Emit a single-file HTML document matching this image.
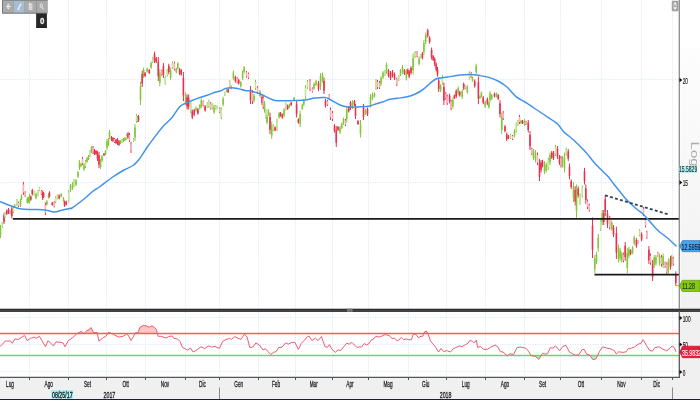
<!DOCTYPE html>
<html><head><meta charset="utf-8"><title>Chart</title>
<style>html,body{margin:0;padding:0;background:#fff;overflow:hidden;} svg{display:block;}</style>
</head><body>
<svg width="700" height="400" viewBox="0 0 700 400">
<rect x="0" y="0" width="700" height="400" fill="#ffffff"/>
<defs><linearGradient id="rp" x1="0" y1="0" x2="0" y2="1"><stop offset="0" stop-color="#fdfdfd"/><stop offset="1" stop-color="#f1f1f1"/></linearGradient></defs>
<rect x="680.5" y="47.4" width="19.5" height="262" fill="url(#rp)"/>
<rect x="679" y="311" width="21" height="89" fill="#f0f0f0"/>
<rect x="0" y="377" width="700" height="23" fill="#f0f0f0"/>
<line x1="29.5" y1="0" x2="29.5" y2="309" stroke="#dbe8fa" stroke-width="1" stroke-dasharray="1.2,1.3" fill="none"/>
<line x1="29.5" y1="312" x2="29.5" y2="377" stroke="#dbe8fa" stroke-width="1" stroke-dasharray="1.2,1.3" fill="none"/>
<line x1="68.5" y1="0" x2="68.5" y2="309" stroke="#dbe8fa" stroke-width="1" stroke-dasharray="1.2,1.3" fill="none"/>
<line x1="68.5" y1="312" x2="68.5" y2="377" stroke="#dbe8fa" stroke-width="1" stroke-dasharray="1.2,1.3" fill="none"/>
<line x1="106.5" y1="0" x2="106.5" y2="309" stroke="#dbe8fa" stroke-width="1" stroke-dasharray="1.2,1.3" fill="none"/>
<line x1="106.5" y1="312" x2="106.5" y2="377" stroke="#dbe8fa" stroke-width="1" stroke-dasharray="1.2,1.3" fill="none"/>
<line x1="145.5" y1="0" x2="145.5" y2="309" stroke="#dbe8fa" stroke-width="1" stroke-dasharray="1.2,1.3" fill="none"/>
<line x1="145.5" y1="312" x2="145.5" y2="377" stroke="#dbe8fa" stroke-width="1" stroke-dasharray="1.2,1.3" fill="none"/>
<line x1="185.5" y1="0" x2="185.5" y2="309" stroke="#dbe8fa" stroke-width="1" stroke-dasharray="1.2,1.3" fill="none"/>
<line x1="185.5" y1="312" x2="185.5" y2="377" stroke="#dbe8fa" stroke-width="1" stroke-dasharray="1.2,1.3" fill="none"/>
<line x1="219.5" y1="0" x2="219.5" y2="309" stroke="#dbe8fa" stroke-width="1" stroke-dasharray="1.2,1.3" fill="none"/>
<line x1="219.5" y1="312" x2="219.5" y2="377" stroke="#dbe8fa" stroke-width="1" stroke-dasharray="1.2,1.3" fill="none"/>
<line x1="258.5" y1="0" x2="258.5" y2="309" stroke="#dbe8fa" stroke-width="1" stroke-dasharray="1.2,1.3" fill="none"/>
<line x1="258.5" y1="312" x2="258.5" y2="377" stroke="#dbe8fa" stroke-width="1" stroke-dasharray="1.2,1.3" fill="none"/>
<line x1="295.5" y1="0" x2="295.5" y2="309" stroke="#dbe8fa" stroke-width="1" stroke-dasharray="1.2,1.3" fill="none"/>
<line x1="295.5" y1="312" x2="295.5" y2="377" stroke="#dbe8fa" stroke-width="1" stroke-dasharray="1.2,1.3" fill="none"/>
<line x1="332.5" y1="0" x2="332.5" y2="309" stroke="#dbe8fa" stroke-width="1" stroke-dasharray="1.2,1.3" fill="none"/>
<line x1="332.5" y1="312" x2="332.5" y2="377" stroke="#dbe8fa" stroke-width="1" stroke-dasharray="1.2,1.3" fill="none"/>
<line x1="368.5" y1="0" x2="368.5" y2="309" stroke="#dbe8fa" stroke-width="1" stroke-dasharray="1.2,1.3" fill="none"/>
<line x1="368.5" y1="312" x2="368.5" y2="377" stroke="#dbe8fa" stroke-width="1" stroke-dasharray="1.2,1.3" fill="none"/>
<line x1="408.5" y1="0" x2="408.5" y2="309" stroke="#dbe8fa" stroke-width="1" stroke-dasharray="1.2,1.3" fill="none"/>
<line x1="408.5" y1="312" x2="408.5" y2="377" stroke="#dbe8fa" stroke-width="1" stroke-dasharray="1.2,1.3" fill="none"/>
<line x1="446.5" y1="0" x2="446.5" y2="309" stroke="#dbe8fa" stroke-width="1" stroke-dasharray="1.2,1.3" fill="none"/>
<line x1="446.5" y1="312" x2="446.5" y2="377" stroke="#dbe8fa" stroke-width="1" stroke-dasharray="1.2,1.3" fill="none"/>
<line x1="485.5" y1="0" x2="485.5" y2="309" stroke="#dbe8fa" stroke-width="1" stroke-dasharray="1.2,1.3" fill="none"/>
<line x1="485.5" y1="312" x2="485.5" y2="377" stroke="#dbe8fa" stroke-width="1" stroke-dasharray="1.2,1.3" fill="none"/>
<line x1="524.5" y1="0" x2="524.5" y2="309" stroke="#dbe8fa" stroke-width="1" stroke-dasharray="1.2,1.3" fill="none"/>
<line x1="524.5" y1="312" x2="524.5" y2="377" stroke="#dbe8fa" stroke-width="1" stroke-dasharray="1.2,1.3" fill="none"/>
<line x1="560.5" y1="0" x2="560.5" y2="309" stroke="#dbe8fa" stroke-width="1" stroke-dasharray="1.2,1.3" fill="none"/>
<line x1="560.5" y1="312" x2="560.5" y2="377" stroke="#dbe8fa" stroke-width="1" stroke-dasharray="1.2,1.3" fill="none"/>
<line x1="601.5" y1="0" x2="601.5" y2="309" stroke="#dbe8fa" stroke-width="1" stroke-dasharray="1.2,1.3" fill="none"/>
<line x1="601.5" y1="312" x2="601.5" y2="377" stroke="#dbe8fa" stroke-width="1" stroke-dasharray="1.2,1.3" fill="none"/>
<line x1="641.5" y1="0" x2="641.5" y2="309" stroke="#dbe8fa" stroke-width="1" stroke-dasharray="1.2,1.3" fill="none"/>
<line x1="641.5" y1="312" x2="641.5" y2="377" stroke="#dbe8fa" stroke-width="1" stroke-dasharray="1.2,1.3" fill="none"/>
<line x1="672.5" y1="0" x2="672.5" y2="309" stroke="#dbe8fa" stroke-width="1" stroke-dasharray="1.2,1.3" fill="none"/>
<line x1="672.5" y1="312" x2="672.5" y2="377" stroke="#dbe8fa" stroke-width="1" stroke-dasharray="1.2,1.3" fill="none"/>
<line x1="0" y1="79.5" x2="679" y2="79.5" stroke="#dbe8fa" stroke-width="1" stroke-dasharray="1.2,1.3" fill="none"/>
<line x1="0" y1="182.5" x2="679" y2="182.5" stroke="#dbe8fa" stroke-width="1" stroke-dasharray="1.2,1.3" fill="none"/>
<line x1="0" y1="317.5" x2="679" y2="317.5" stroke="#dbe8fa" stroke-width="1" stroke-dasharray="1.2,1.3" fill="none"/>
<line x1="0" y1="344.5" x2="679" y2="344.5" stroke="#dbe8fa" stroke-width="1" stroke-dasharray="1.2,1.3" fill="none"/>
<line x1="0" y1="371.5" x2="679" y2="371.5" stroke="#dbe8fa" stroke-width="1" stroke-dasharray="1.2,1.3" fill="none"/>
<polygon points="77.20,333.50 81.40,331.35 83.88,333.50" fill="#ffc4c8"/>
<polygon points="84.09,333.50 86.60,330.65 89.25,329.60 91.00,327.50 93.60,332.75 97.10,332.40 97.33,333.50" fill="#ffc4c8"/>
<polygon points="107.76,333.50 108.50,332.40 110.00,332.75 111.50,333.50" fill="#ffc4c8"/>
<polygon points="135.01,333.50 135.40,332.75 138.00,332.75 139.75,327.50 143.25,325.40 146.75,326.10 149.40,327.15 152.00,325.75 154.60,327.50 156.40,329.25 157.43,333.50" fill="#ffc4c8"/>
<polygon points="423.86,333.50 424.50,331.90 426.25,331.00 427.93,333.50" fill="#ffc4c8"/>
<polygon points="507.00,355.50 507.40,355.85 507.83,355.50" fill="#b8f0b0"/>
<polygon points="531.00,355.50 535.40,356.40 538.90,359.35 541.16,355.50" fill="#b8f0b0"/>
<polygon points="589.95,355.50 592.90,359.70 596.00,358.85 597.57,355.50" fill="#b8f0b0"/>
<line x1="0" y1="333.5" x2="679" y2="333.5" stroke="#ff5a5a" stroke-width="1.3"/>
<line x1="0" y1="355.5" x2="679" y2="355.5" stroke="#5ee05e" stroke-width="1.3"/>
<polyline points="0.00,346.75 2.60,344.00 5.25,341.00 10.50,341.00 12.25,343.25 14.90,338.90 18.40,339.40 24.50,335.40 27.10,340.60 30.60,338.40 34.10,337.10 35.90,338.35 39.40,336.25 45.50,346.75 48.10,340.60 53.40,345.90 56.00,341.85 60.40,342.40 63.00,342.90 65.10,346.75 68.25,340.60 72.60,337.65 77.00,333.60 81.40,331.35 84.00,333.60 86.60,330.65 89.25,329.60 91.00,327.50 93.60,332.75 97.10,332.40 98.90,341.15 103.25,337.65 105.90,336.25 108.50,332.40 110.00,332.75 113.50,334.50 118.75,337.10 123.10,336.25 126.60,334.15 128.40,335.40 131.00,340.60 133.60,336.25 135.40,332.75 138.00,332.75 139.75,327.50 143.25,325.40 146.75,326.10 149.40,327.15 152.00,325.75 154.60,327.50 156.40,329.25 158.10,336.25 160.75,336.25 166.00,338.00 168.60,336.60 172.10,335.90 173.90,338.35 177.40,338.90 180.00,341.50 182.60,347.60 185.25,348.50 187.00,350.25 190.50,348.15 193.10,352.00 195.75,350.60 201.00,346.75 204.50,348.50 208.90,345.90 211.50,347.10 215.00,346.40 219.40,348.50 222.60,341.50 226.10,339.40 229.60,338.35 231.40,339.40 234.90,336.60 237.50,338.00 241.00,339.40 244.50,334.15 247.10,337.10 249.75,347.60 253.25,346.75 255.90,342.90 259.40,345.00 262.90,349.90 265.50,348.85 268.10,351.65 270.75,354.60 273.40,352.35 276.00,351.65 278.60,347.60 282.10,347.10 285.60,342.90 288.25,344.10 291.75,342.40 294.90,342.40 298.40,349.40 301.40,343.25 304.00,340.60 307.50,336.60 309.25,336.25 311.90,340.60 315.40,338.00 318.00,340.60 321.50,336.60 325.00,346.75 327.60,347.10 329.40,344.65 332.00,349.40 335.25,352.35 337.90,349.90 340.50,350.60 343.10,347.60 346.60,343.25 349.25,344.10 351.90,342.40 354.50,345.00 357.10,347.60 359.75,346.75 361.50,347.10 364.10,343.60 366.75,345.00 368.50,344.10 371.10,340.10 373.75,338.90 375.85,336.25 379.00,337.10 381.60,336.25 384.25,334.85 386.90,334.85 389.50,335.90 392.10,338.35 394.75,338.35 397.40,341.15 399.10,339.40 401.40,337.65 403.50,339.75 406.10,338.90 408.75,339.75 411.40,339.75 413.10,334.50 415.75,334.15 418.40,337.65 421.00,336.25 422.75,336.25 424.50,331.90 426.25,331.00 428.00,333.60 430.60,341.50 433.25,344.10 435.90,347.60 438.50,352.00 441.10,348.50 443.75,351.65 446.40,350.60 447.90,351.10 450.50,352.00 453.10,348.85 455.75,347.60 459.25,345.90 461.90,346.75 465.40,344.65 468.00,343.25 469.75,340.60 472.40,341.15 474.10,342.90 476.40,340.10 477.60,347.60 480.25,346.40 483.75,349.40 487.25,349.40 490.75,347.10 495.10,345.00 497.75,346.75 500.40,351.65 503.00,352.00 507.40,355.85 510.00,353.75 513.50,354.60 517.00,347.60 520.50,347.10 525.75,348.15 528.40,351.10 531.00,355.50 535.40,356.40 538.90,359.35 542.40,353.40 545.00,354.10 547.60,353.75 550.25,347.60 552.90,348.15 555.50,345.90 559.60,350.70 562.90,346.40 566.00,345.35 569.30,351.80 572.50,353.90 575.70,355.40 578.90,354.60 582.10,349.60 584.30,349.60 586.40,353.90 589.60,355.00 592.90,359.70 596.00,358.85 599.30,351.80 602.50,346.85 606.80,348.15 611.10,349.00 614.30,350.70 616.40,353.90 618.60,351.80 622.90,352.40 626.10,351.80 628.20,348.60 631.40,348.15 634.60,346.85 637.90,344.30 641.10,343.20 643.20,339.60 646.40,345.35 649.60,350.30 652.40,351.10 655.00,347.50 659.30,346.85 662.50,349.00 666.80,350.70 670.00,348.15 672.10,346.00 674.30,347.50 676.00,351.80" fill="none" stroke="#f05a72" stroke-width="1" stroke-linejoin="round"/>
<rect x="0.00" y="225.00" width="1" height="13.00" fill="#84c83a"/>
<rect x="-0.30" y="227.60" width="1.6" height="7.80" fill="#84c83a"/>
<rect x="1.75" y="222.00" width="1" height="6.00" fill="#84c83a"/>
<rect x="1.45" y="223.20" width="1.6" height="3.60" fill="#c4e6a0"/>
<rect x="3.50" y="213.00" width="1" height="11.00" fill="#e9304c"/>
<rect x="3.20" y="215.20" width="1.6" height="6.60" fill="#e9304c"/>
<rect x="4.50" y="212.00" width="1" height="6.00" fill="#84c83a"/>
<rect x="4.20" y="213.20" width="1.6" height="3.60" fill="#c4e6a0"/>
<rect x="6.25" y="209.50" width="1" height="5.50" fill="#e9304c"/>
<rect x="5.95" y="210.60" width="1.6" height="3.30" fill="#e9304c"/>
<rect x="8.00" y="208.00" width="1" height="6.00" fill="#e9304c"/>
<rect x="7.70" y="209.20" width="1.6" height="3.60" fill="#e9304c"/>
<rect x="9.60" y="210.60" width="1" height="3.40" fill="#e9304c"/>
<rect x="9.30" y="211.28" width="1.6" height="2.04" fill="#f7b4c0"/>
<rect x="11.30" y="206.00" width="1" height="12.50" fill="#e9304c"/>
<rect x="11.00" y="208.50" width="1.6" height="7.50" fill="#e9304c"/>
<rect x="13.00" y="207.00" width="1" height="6.00" fill="#84c83a"/>
<rect x="12.70" y="208.20" width="1.6" height="3.60" fill="#c4e6a0"/>
<rect x="14.10" y="204.00" width="1" height="4.00" fill="#84c83a"/>
<rect x="13.80" y="204.80" width="1.6" height="2.40" fill="#84c83a"/>
<rect x="16.40" y="199.00" width="1" height="7.00" fill="#84c83a"/>
<rect x="16.10" y="200.40" width="1.6" height="4.20" fill="#c4e6a0"/>
<rect x="18.00" y="201.60" width="1" height="5.40" fill="#e9304c"/>
<rect x="17.70" y="202.68" width="1.6" height="3.24" fill="#f7b4c0"/>
<rect x="20.00" y="198.75" width="1" height="8.25" fill="#84c83a"/>
<rect x="19.70" y="200.40" width="1.6" height="4.95" fill="#84c83a"/>
<rect x="21.00" y="194.40" width="1" height="5.60" fill="#84c83a"/>
<rect x="20.70" y="195.52" width="1.6" height="3.36" fill="#84c83a"/>
<rect x="22.90" y="181.90" width="1" height="13.10" fill="#e9304c"/>
<rect x="22.60" y="184.52" width="1.6" height="7.86" fill="#f7b4c0"/>
<rect x="24.70" y="191.25" width="1" height="5.75" fill="#e9304c"/>
<rect x="24.40" y="192.40" width="1.6" height="3.45" fill="#f7b4c0"/>
<rect x="26.80" y="196.90" width="1" height="6.85" fill="#84c83a"/>
<rect x="26.50" y="198.27" width="1.6" height="4.11" fill="#84c83a"/>
<rect x="27.80" y="197.00" width="1" height="6.00" fill="#84c83a"/>
<rect x="27.50" y="198.20" width="1.6" height="3.60" fill="#84c83a"/>
<rect x="29.00" y="193.75" width="1" height="10.00" fill="#84c83a"/>
<rect x="28.70" y="195.75" width="1.6" height="6.00" fill="#84c83a"/>
<rect x="30.30" y="195.60" width="1" height="5.00" fill="#e9304c"/>
<rect x="30.00" y="196.60" width="1.6" height="3.00" fill="#e9304c"/>
<rect x="31.80" y="188.75" width="1" height="6.85" fill="#e9304c"/>
<rect x="31.50" y="190.12" width="1.6" height="4.11" fill="#e9304c"/>
<rect x="33.70" y="190.60" width="1" height="5.00" fill="#84c83a"/>
<rect x="33.40" y="191.60" width="1.6" height="3.00" fill="#c4e6a0"/>
<rect x="35.50" y="192.50" width="1" height="6.90" fill="#84c83a"/>
<rect x="35.20" y="193.88" width="1.6" height="4.14" fill="#84c83a"/>
<rect x="37.50" y="190.00" width="1" height="6.25" fill="#84c83a"/>
<rect x="37.20" y="191.25" width="1.6" height="3.75" fill="#c4e6a0"/>
<rect x="38.90" y="186.90" width="1" height="4.35" fill="#84c83a"/>
<rect x="38.60" y="187.77" width="1.6" height="2.61" fill="#c4e6a0"/>
<rect x="40.90" y="190.00" width="1" height="5.00" fill="#e9304c"/>
<rect x="40.60" y="191.00" width="1.6" height="3.00" fill="#f7b4c0"/>
<rect x="42.20" y="190.60" width="1" height="9.40" fill="#e9304c"/>
<rect x="41.90" y="192.48" width="1.6" height="5.64" fill="#e9304c"/>
<rect x="43.10" y="192.00" width="1" height="6.00" fill="#e9304c"/>
<rect x="42.80" y="193.20" width="1.6" height="3.60" fill="#e9304c"/>
<rect x="44.90" y="202.50" width="1" height="12.50" fill="#e9304c"/>
<rect x="44.60" y="205.00" width="1.6" height="7.50" fill="#f7b4c0"/>
<rect x="46.30" y="200.00" width="1" height="5.60" fill="#84c83a"/>
<rect x="46.00" y="201.12" width="1.6" height="3.36" fill="#84c83a"/>
<rect x="48.10" y="193.10" width="1" height="5.65" fill="#84c83a"/>
<rect x="47.80" y="194.23" width="1.6" height="3.39" fill="#84c83a"/>
<rect x="49.00" y="191.25" width="1" height="6.25" fill="#e9304c"/>
<rect x="48.70" y="192.50" width="1.6" height="3.75" fill="#e9304c"/>
<rect x="51.80" y="201.90" width="1" height="3.70" fill="#e9304c"/>
<rect x="51.50" y="202.64" width="1.6" height="2.22" fill="#e9304c"/>
<rect x="53.70" y="201.25" width="1" height="6.25" fill="#e9304c"/>
<rect x="53.40" y="202.50" width="1.6" height="3.75" fill="#f7b4c0"/>
<rect x="55.10" y="196.25" width="1" height="6.85" fill="#84c83a"/>
<rect x="54.80" y="197.62" width="1.6" height="4.11" fill="#c4e6a0"/>
<rect x="56.80" y="194.40" width="1" height="5.00" fill="#84c83a"/>
<rect x="56.50" y="195.40" width="1.6" height="3.00" fill="#c4e6a0"/>
<rect x="58.70" y="194.40" width="1" height="5.00" fill="#e9304c"/>
<rect x="58.40" y="195.40" width="1.6" height="3.00" fill="#e9304c"/>
<rect x="60.70" y="193.10" width="1" height="4.40" fill="#84c83a"/>
<rect x="60.40" y="193.98" width="1.6" height="2.64" fill="#84c83a"/>
<rect x="63.00" y="196.90" width="1" height="5.00" fill="#84c83a"/>
<rect x="62.70" y="197.90" width="1.6" height="3.00" fill="#84c83a"/>
<rect x="64.00" y="200.60" width="1" height="6.30" fill="#e9304c"/>
<rect x="63.70" y="201.86" width="1.6" height="3.78" fill="#e9304c"/>
<rect x="65.70" y="200.60" width="1" height="5.00" fill="#e9304c"/>
<rect x="65.40" y="201.60" width="1.6" height="3.00" fill="#e9304c"/>
<rect x="68.20" y="190.00" width="1" height="12.50" fill="#84c83a"/>
<rect x="67.90" y="192.50" width="1.6" height="7.50" fill="#c4e6a0"/>
<rect x="70.00" y="184.00" width="1" height="8.00" fill="#84c83a"/>
<rect x="69.70" y="185.60" width="1.6" height="4.80" fill="#84c83a"/>
<rect x="72.00" y="182.00" width="1" height="8.00" fill="#84c83a"/>
<rect x="71.70" y="183.60" width="1.6" height="4.80" fill="#84c83a"/>
<rect x="73.50" y="179.00" width="1" height="8.00" fill="#84c83a"/>
<rect x="73.20" y="180.60" width="1.6" height="4.80" fill="#c4e6a0"/>
<rect x="75.50" y="179.00" width="1" height="7.00" fill="#84c83a"/>
<rect x="75.20" y="180.40" width="1.6" height="4.20" fill="#84c83a"/>
<rect x="77.50" y="171.00" width="1" height="7.00" fill="#84c83a"/>
<rect x="77.20" y="172.40" width="1.6" height="4.20" fill="#84c83a"/>
<rect x="79.00" y="160.00" width="1" height="10.00" fill="#84c83a"/>
<rect x="78.70" y="162.00" width="1.6" height="6.00" fill="#84c83a"/>
<rect x="80.50" y="163.00" width="1" height="4.00" fill="#84c83a"/>
<rect x="80.20" y="163.80" width="1.6" height="2.40" fill="#84c83a"/>
<rect x="82.00" y="157.00" width="1" height="8.00" fill="#e9304c"/>
<rect x="81.70" y="158.60" width="1.6" height="4.80" fill="#f7b4c0"/>
<rect x="83.50" y="163.00" width="1" height="8.00" fill="#84c83a"/>
<rect x="83.20" y="164.60" width="1.6" height="4.80" fill="#84c83a"/>
<rect x="85.00" y="160.00" width="1" height="8.00" fill="#84c83a"/>
<rect x="84.70" y="161.60" width="1.6" height="4.80" fill="#c4e6a0"/>
<rect x="86.50" y="157.00" width="1" height="6.00" fill="#84c83a"/>
<rect x="86.20" y="158.20" width="1.6" height="3.60" fill="#84c83a"/>
<rect x="88.00" y="155.00" width="1" height="5.00" fill="#84c83a"/>
<rect x="87.70" y="156.00" width="1.6" height="3.00" fill="#84c83a"/>
<rect x="89.50" y="150.00" width="1" height="7.00" fill="#84c83a"/>
<rect x="89.20" y="151.40" width="1.6" height="4.20" fill="#c4e6a0"/>
<rect x="91.00" y="146.00" width="1" height="7.00" fill="#84c83a"/>
<rect x="90.70" y="147.40" width="1.6" height="4.20" fill="#84c83a"/>
<rect x="92.50" y="146.00" width="1" height="8.00" fill="#e9304c"/>
<rect x="92.20" y="147.60" width="1.6" height="4.80" fill="#f7b4c0"/>
<rect x="94.00" y="149.00" width="1" height="6.00" fill="#e9304c"/>
<rect x="93.70" y="150.20" width="1.6" height="3.60" fill="#e9304c"/>
<rect x="95.50" y="150.00" width="1" height="5.00" fill="#e9304c"/>
<rect x="95.20" y="151.00" width="1.6" height="3.00" fill="#e9304c"/>
<rect x="97.00" y="151.00" width="1" height="10.00" fill="#e9304c"/>
<rect x="96.70" y="153.00" width="1.6" height="6.00" fill="#e9304c"/>
<rect x="98.50" y="152.00" width="1" height="16.00" fill="#e9304c"/>
<rect x="98.20" y="155.20" width="1.6" height="9.60" fill="#e9304c"/>
<rect x="100.00" y="159.00" width="1" height="10.00" fill="#84c83a"/>
<rect x="99.70" y="161.00" width="1.6" height="6.00" fill="#84c83a"/>
<rect x="101.50" y="155.00" width="1" height="7.00" fill="#84c83a"/>
<rect x="101.20" y="156.40" width="1.6" height="4.20" fill="#84c83a"/>
<rect x="103.50" y="153.00" width="1" height="3.00" fill="#e9304c"/>
<rect x="103.20" y="153.60" width="1.6" height="1.80" fill="#e9304c"/>
<rect x="105.00" y="150.00" width="1" height="5.00" fill="#84c83a"/>
<rect x="104.70" y="151.00" width="1.6" height="3.00" fill="#84c83a"/>
<rect x="106.50" y="139.00" width="1" height="11.00" fill="#84c83a"/>
<rect x="106.20" y="141.20" width="1.6" height="6.60" fill="#84c83a"/>
<rect x="108.00" y="138.00" width="1" height="8.00" fill="#84c83a"/>
<rect x="107.70" y="139.60" width="1.6" height="4.80" fill="#84c83a"/>
<rect x="109.00" y="130.00" width="1" height="9.00" fill="#84c83a"/>
<rect x="108.70" y="131.80" width="1.6" height="5.40" fill="#84c83a"/>
<rect x="111.00" y="136.00" width="1" height="5.00" fill="#e9304c"/>
<rect x="110.70" y="137.00" width="1.6" height="3.00" fill="#e9304c"/>
<rect x="112.50" y="137.00" width="1" height="5.00" fill="#e9304c"/>
<rect x="112.20" y="138.00" width="1.6" height="3.00" fill="#e9304c"/>
<rect x="114.00" y="138.00" width="1" height="5.00" fill="#e9304c"/>
<rect x="113.70" y="139.00" width="1.6" height="3.00" fill="#f7b4c0"/>
<rect x="115.50" y="139.00" width="1" height="5.00" fill="#e9304c"/>
<rect x="115.20" y="140.00" width="1.6" height="3.00" fill="#e9304c"/>
<rect x="117.00" y="138.00" width="1" height="7.00" fill="#e9304c"/>
<rect x="116.70" y="139.40" width="1.6" height="4.20" fill="#e9304c"/>
<rect x="118.50" y="140.00" width="1" height="6.00" fill="#e9304c"/>
<rect x="118.20" y="141.20" width="1.6" height="3.60" fill="#e9304c"/>
<rect x="120.00" y="140.00" width="1" height="4.00" fill="#84c83a"/>
<rect x="119.70" y="140.80" width="1.6" height="2.40" fill="#84c83a"/>
<rect x="121.50" y="139.00" width="1" height="4.00" fill="#84c83a"/>
<rect x="121.20" y="139.80" width="1.6" height="2.40" fill="#c4e6a0"/>
<rect x="123.00" y="138.00" width="1" height="4.00" fill="#84c83a"/>
<rect x="122.70" y="138.80" width="1.6" height="2.40" fill="#84c83a"/>
<rect x="124.50" y="137.00" width="1" height="4.00" fill="#84c83a"/>
<rect x="124.20" y="137.80" width="1.6" height="2.40" fill="#84c83a"/>
<rect x="126.00" y="134.00" width="1" height="6.00" fill="#84c83a"/>
<rect x="125.70" y="135.20" width="1.6" height="3.60" fill="#c4e6a0"/>
<rect x="127.50" y="132.00" width="1" height="7.00" fill="#e9304c"/>
<rect x="127.20" y="133.40" width="1.6" height="4.20" fill="#e9304c"/>
<rect x="129.00" y="133.00" width="1" height="9.00" fill="#e9304c"/>
<rect x="128.70" y="134.80" width="1.6" height="5.40" fill="#f7b4c0"/>
<rect x="130.50" y="142.00" width="1" height="11.00" fill="#e9304c"/>
<rect x="130.20" y="144.20" width="1.6" height="6.60" fill="#f7b4c0"/>
<rect x="133.00" y="138.00" width="1" height="4.00" fill="#84c83a"/>
<rect x="132.70" y="138.80" width="1.6" height="2.40" fill="#c4e6a0"/>
<rect x="134.50" y="124.00" width="1" height="17.00" fill="#84c83a"/>
<rect x="134.20" y="127.40" width="1.6" height="10.20" fill="#84c83a"/>
<rect x="136.00" y="114.00" width="1" height="9.00" fill="#84c83a"/>
<rect x="135.70" y="115.80" width="1.6" height="5.40" fill="#c4e6a0"/>
<rect x="137.00" y="116.00" width="1" height="6.00" fill="#84c83a"/>
<rect x="136.70" y="117.20" width="1.6" height="3.60" fill="#c4e6a0"/>
<rect x="138.00" y="115.00" width="1" height="7.00" fill="#e9304c"/>
<rect x="137.70" y="116.40" width="1.6" height="4.20" fill="#e9304c"/>
<rect x="140.00" y="81.70" width="1" height="23.30" fill="#84c83a"/>
<rect x="139.70" y="86.36" width="1.6" height="13.98" fill="#84c83a"/>
<rect x="141.70" y="70.50" width="1" height="16.50" fill="#e9304c"/>
<rect x="141.40" y="73.80" width="1.6" height="9.90" fill="#e9304c"/>
<rect x="143.10" y="67.50" width="1" height="10.50" fill="#84c83a"/>
<rect x="142.80" y="69.60" width="1.6" height="6.30" fill="#84c83a"/>
<rect x="144.60" y="72.00" width="1" height="5.00" fill="#e9304c"/>
<rect x="144.30" y="73.00" width="1.6" height="3.00" fill="#e9304c"/>
<rect x="146.70" y="67.50" width="1" height="5.20" fill="#84c83a"/>
<rect x="146.40" y="68.54" width="1.6" height="3.12" fill="#84c83a"/>
<rect x="148.80" y="69.00" width="1" height="5.00" fill="#e9304c"/>
<rect x="148.50" y="70.00" width="1.6" height="3.00" fill="#e9304c"/>
<rect x="150.60" y="61.50" width="1" height="7.50" fill="#84c83a"/>
<rect x="150.30" y="63.00" width="1.6" height="4.50" fill="#84c83a"/>
<rect x="152.10" y="57.00" width="1" height="6.00" fill="#84c83a"/>
<rect x="151.80" y="58.20" width="1.6" height="3.60" fill="#c4e6a0"/>
<rect x="154.00" y="51.70" width="1" height="11.30" fill="#e9304c"/>
<rect x="153.70" y="53.96" width="1.6" height="6.78" fill="#e9304c"/>
<rect x="155.70" y="57.00" width="1" height="6.00" fill="#e9304c"/>
<rect x="155.40" y="58.20" width="1.6" height="3.60" fill="#e9304c"/>
<rect x="157.80" y="57.00" width="1" height="24.00" fill="#e9304c"/>
<rect x="157.50" y="61.80" width="1.6" height="14.40" fill="#e9304c"/>
<rect x="159.30" y="69.00" width="1" height="17.20" fill="#84c83a"/>
<rect x="159.00" y="72.44" width="1.6" height="10.32" fill="#84c83a"/>
<rect x="161.20" y="69.70" width="1" height="6.00" fill="#e9304c"/>
<rect x="160.90" y="70.90" width="1.6" height="3.60" fill="#f7b4c0"/>
<rect x="162.90" y="63.00" width="1" height="15.00" fill="#e9304c"/>
<rect x="162.60" y="66.00" width="1.6" height="9.00" fill="#e9304c"/>
<rect x="164.70" y="75.70" width="1" height="9.00" fill="#84c83a"/>
<rect x="164.40" y="77.50" width="1.6" height="5.40" fill="#c4e6a0"/>
<rect x="166.80" y="69.00" width="1" height="7.50" fill="#84c83a"/>
<rect x="166.50" y="70.50" width="1.6" height="4.50" fill="#c4e6a0"/>
<rect x="168.30" y="63.70" width="1" height="10.50" fill="#e9304c"/>
<rect x="168.00" y="65.80" width="1.6" height="6.30" fill="#e9304c"/>
<rect x="170.10" y="67.50" width="1" height="12.70" fill="#84c83a"/>
<rect x="169.80" y="70.04" width="1.6" height="7.62" fill="#84c83a"/>
<rect x="171.90" y="61.50" width="1" height="7.50" fill="#84c83a"/>
<rect x="171.60" y="63.00" width="1.6" height="4.50" fill="#c4e6a0"/>
<rect x="173.90" y="61.50" width="1" height="9.00" fill="#e9304c"/>
<rect x="173.60" y="63.30" width="1.6" height="5.40" fill="#f7b4c0"/>
<rect x="175.80" y="67.50" width="1" height="6.00" fill="#84c83a"/>
<rect x="175.50" y="68.70" width="1.6" height="3.60" fill="#84c83a"/>
<rect x="177.30" y="62.00" width="1" height="7.70" fill="#84c83a"/>
<rect x="177.00" y="63.54" width="1.6" height="4.62" fill="#84c83a"/>
<rect x="179.10" y="68.00" width="1" height="7.00" fill="#e9304c"/>
<rect x="178.80" y="69.40" width="1.6" height="4.20" fill="#e9304c"/>
<rect x="180.70" y="69.00" width="1" height="6.70" fill="#e9304c"/>
<rect x="180.40" y="70.34" width="1.6" height="4.02" fill="#e9304c"/>
<rect x="182.90" y="72.00" width="1" height="29.20" fill="#e9304c"/>
<rect x="182.60" y="77.84" width="1.6" height="17.52" fill="#e9304c"/>
<rect x="185.10" y="92.20" width="1" height="12.80" fill="#84c83a"/>
<rect x="184.80" y="94.76" width="1.6" height="7.68" fill="#84c83a"/>
<rect x="186.60" y="94.50" width="1" height="15.00" fill="#e9304c"/>
<rect x="186.30" y="97.50" width="1.6" height="9.00" fill="#e9304c"/>
<rect x="188.10" y="94.50" width="1" height="15.00" fill="#e9304c"/>
<rect x="187.80" y="97.50" width="1.6" height="9.00" fill="#e9304c"/>
<rect x="190.30" y="100.50" width="1" height="12.70" fill="#84c83a"/>
<rect x="190.00" y="103.04" width="1.6" height="7.62" fill="#c4e6a0"/>
<rect x="191.80" y="109.50" width="1" height="9.70" fill="#e9304c"/>
<rect x="191.50" y="111.44" width="1.6" height="5.82" fill="#e9304c"/>
<rect x="193.70" y="108.70" width="1" height="7.50" fill="#e9304c"/>
<rect x="193.40" y="110.20" width="1.6" height="4.50" fill="#e9304c"/>
<rect x="195.60" y="106.50" width="1" height="5.20" fill="#84c83a"/>
<rect x="195.30" y="107.54" width="1.6" height="3.12" fill="#84c83a"/>
<rect x="197.40" y="108.00" width="1" height="6.70" fill="#e9304c"/>
<rect x="197.10" y="109.34" width="1.6" height="4.02" fill="#e9304c"/>
<rect x="199.30" y="104.20" width="1" height="5.30" fill="#84c83a"/>
<rect x="199.00" y="105.26" width="1.6" height="3.18" fill="#84c83a"/>
<rect x="200.80" y="98.20" width="1" height="9.80" fill="#84c83a"/>
<rect x="200.50" y="100.16" width="1.6" height="5.88" fill="#84c83a"/>
<rect x="202.70" y="100.50" width="1" height="6.00" fill="#e9304c"/>
<rect x="202.40" y="101.70" width="1.6" height="3.60" fill="#f7b4c0"/>
<rect x="204.60" y="105.00" width="1" height="6.70" fill="#e9304c"/>
<rect x="204.30" y="106.34" width="1.6" height="4.02" fill="#e9304c"/>
<rect x="206.80" y="102.00" width="1" height="6.00" fill="#84c83a"/>
<rect x="206.50" y="103.20" width="1.6" height="3.60" fill="#c4e6a0"/>
<rect x="208.30" y="99.70" width="1" height="8.30" fill="#84c83a"/>
<rect x="208.00" y="101.36" width="1.6" height="4.98" fill="#c4e6a0"/>
<rect x="210.20" y="102.00" width="1" height="7.50" fill="#e9304c"/>
<rect x="209.90" y="103.50" width="1.6" height="4.50" fill="#f7b4c0"/>
<rect x="212.10" y="103.50" width="1" height="6.00" fill="#84c83a"/>
<rect x="211.80" y="104.70" width="1.6" height="3.60" fill="#c4e6a0"/>
<rect x="213.60" y="105.00" width="1" height="9.00" fill="#84c83a"/>
<rect x="213.30" y="106.80" width="1.6" height="5.40" fill="#84c83a"/>
<rect x="215.10" y="105.00" width="1" height="4.50" fill="#84c83a"/>
<rect x="214.80" y="105.90" width="1.6" height="2.70" fill="#c4e6a0"/>
<rect x="216.60" y="105.50" width="1" height="4.00" fill="#84c83a"/>
<rect x="216.30" y="106.30" width="1.6" height="2.40" fill="#c4e6a0"/>
<rect x="219.30" y="107.20" width="1" height="6.00" fill="#e9304c"/>
<rect x="219.00" y="108.40" width="1.6" height="3.60" fill="#f7b4c0"/>
<rect x="220.80" y="107.20" width="1" height="12.00" fill="#84c83a"/>
<rect x="220.50" y="109.60" width="1.6" height="7.20" fill="#c4e6a0"/>
<rect x="222.60" y="96.70" width="1" height="9.80" fill="#84c83a"/>
<rect x="222.30" y="98.66" width="1.6" height="5.88" fill="#84c83a"/>
<rect x="224.40" y="91.50" width="1" height="4.50" fill="#84c83a"/>
<rect x="224.10" y="92.40" width="1.6" height="2.70" fill="#c4e6a0"/>
<rect x="226.20" y="88.50" width="1" height="3.70" fill="#84c83a"/>
<rect x="225.90" y="89.24" width="1.6" height="2.22" fill="#84c83a"/>
<rect x="227.70" y="88.50" width="1" height="4.50" fill="#e9304c"/>
<rect x="227.40" y="89.40" width="1.6" height="2.70" fill="#e9304c"/>
<rect x="229.30" y="80.20" width="1" height="8.30" fill="#84c83a"/>
<rect x="229.00" y="81.86" width="1.6" height="4.98" fill="#c4e6a0"/>
<rect x="230.70" y="85.50" width="1" height="3.70" fill="#e9304c"/>
<rect x="230.40" y="86.24" width="1.6" height="2.22" fill="#f7b4c0"/>
<rect x="232.90" y="70.50" width="1" height="9.70" fill="#84c83a"/>
<rect x="232.60" y="72.44" width="1.6" height="5.82" fill="#84c83a"/>
<rect x="234.90" y="75.70" width="1" height="6.80" fill="#e9304c"/>
<rect x="234.60" y="77.06" width="1.6" height="4.08" fill="#e9304c"/>
<rect x="236.70" y="77.20" width="1" height="6.00" fill="#e9304c"/>
<rect x="236.40" y="78.40" width="1.6" height="3.60" fill="#f7b4c0"/>
<rect x="238.20" y="78.70" width="1" height="6.00" fill="#e9304c"/>
<rect x="237.90" y="79.90" width="1.6" height="3.60" fill="#e9304c"/>
<rect x="240.30" y="81.00" width="1" height="6.70" fill="#84c83a"/>
<rect x="240.00" y="82.34" width="1.6" height="4.02" fill="#84c83a"/>
<rect x="242.10" y="70.50" width="1" height="9.70" fill="#84c83a"/>
<rect x="241.80" y="72.44" width="1.6" height="5.82" fill="#84c83a"/>
<rect x="243.60" y="66.00" width="1" height="7.50" fill="#84c83a"/>
<rect x="243.30" y="67.50" width="1.6" height="4.50" fill="#84c83a"/>
<rect x="246.00" y="71.00" width="1" height="6.50" fill="#e9304c"/>
<rect x="245.70" y="72.30" width="1.6" height="3.90" fill="#f7b4c0"/>
<rect x="248.00" y="72.50" width="1" height="6.50" fill="#e9304c"/>
<rect x="247.70" y="73.80" width="1.6" height="3.90" fill="#f7b4c0"/>
<rect x="250.00" y="86.00" width="1" height="18.00" fill="#e9304c"/>
<rect x="249.70" y="89.60" width="1.6" height="10.80" fill="#e9304c"/>
<rect x="252.00" y="90.00" width="1" height="14.00" fill="#e9304c"/>
<rect x="251.70" y="92.80" width="1.6" height="8.40" fill="#f7b4c0"/>
<rect x="253.50" y="94.00" width="1" height="8.50" fill="#84c83a"/>
<rect x="253.20" y="95.70" width="1.6" height="5.10" fill="#84c83a"/>
<rect x="255.00" y="80.00" width="1" height="10.00" fill="#84c83a"/>
<rect x="254.70" y="82.00" width="1.6" height="6.00" fill="#c4e6a0"/>
<rect x="257.00" y="86.00" width="1" height="8.00" fill="#e9304c"/>
<rect x="256.70" y="87.60" width="1.6" height="4.80" fill="#f7b4c0"/>
<rect x="259.50" y="90.00" width="1" height="7.50" fill="#84c83a"/>
<rect x="259.20" y="91.50" width="1.6" height="4.50" fill="#84c83a"/>
<rect x="261.50" y="95.00" width="1" height="10.00" fill="#e9304c"/>
<rect x="261.20" y="97.00" width="1.6" height="6.00" fill="#e9304c"/>
<rect x="262.70" y="95.50" width="1" height="13.50" fill="#e9304c"/>
<rect x="262.40" y="98.20" width="1.6" height="8.10" fill="#f7b4c0"/>
<rect x="264.00" y="101.00" width="1" height="11.70" fill="#84c83a"/>
<rect x="263.70" y="103.34" width="1.6" height="7.02" fill="#84c83a"/>
<rect x="265.40" y="109.00" width="1" height="10.00" fill="#84c83a"/>
<rect x="265.10" y="111.00" width="1.6" height="6.00" fill="#c4e6a0"/>
<rect x="266.50" y="114.70" width="1" height="9.60" fill="#84c83a"/>
<rect x="266.20" y="116.62" width="1.6" height="5.76" fill="#84c83a"/>
<rect x="267.90" y="109.00" width="1" height="7.00" fill="#84c83a"/>
<rect x="267.60" y="110.40" width="1.6" height="4.20" fill="#84c83a"/>
<rect x="269.50" y="112.70" width="1" height="21.30" fill="#e9304c"/>
<rect x="269.20" y="116.96" width="1.6" height="12.78" fill="#e9304c"/>
<rect x="271.20" y="121.60" width="1" height="17.20" fill="#84c83a"/>
<rect x="270.90" y="125.04" width="1.6" height="10.32" fill="#84c83a"/>
<rect x="272.90" y="124.30" width="1" height="6.90" fill="#84c83a"/>
<rect x="272.60" y="125.68" width="1.6" height="4.14" fill="#c4e6a0"/>
<rect x="274.60" y="126.40" width="1" height="4.80" fill="#e9304c"/>
<rect x="274.30" y="127.36" width="1.6" height="2.88" fill="#e9304c"/>
<rect x="276.50" y="118.80" width="1" height="12.40" fill="#84c83a"/>
<rect x="276.20" y="121.28" width="1.6" height="7.44" fill="#c4e6a0"/>
<rect x="278.60" y="112.00" width="1" height="6.80" fill="#84c83a"/>
<rect x="278.30" y="113.36" width="1.6" height="4.08" fill="#84c83a"/>
<rect x="280.00" y="112.00" width="1" height="4.80" fill="#e9304c"/>
<rect x="279.70" y="112.96" width="1.6" height="2.88" fill="#e9304c"/>
<rect x="281.80" y="113.40" width="1" height="5.40" fill="#e9304c"/>
<rect x="281.50" y="114.48" width="1.6" height="3.24" fill="#e9304c"/>
<rect x="283.50" y="107.90" width="1" height="9.60" fill="#84c83a"/>
<rect x="283.20" y="109.82" width="1.6" height="5.76" fill="#84c83a"/>
<rect x="285.40" y="102.40" width="1" height="8.20" fill="#84c83a"/>
<rect x="285.10" y="104.04" width="1.6" height="4.92" fill="#c4e6a0"/>
<rect x="287.20" y="104.40" width="1" height="5.60" fill="#e9304c"/>
<rect x="286.90" y="105.52" width="1.6" height="3.36" fill="#e9304c"/>
<rect x="289.00" y="103.70" width="1" height="4.20" fill="#84c83a"/>
<rect x="288.70" y="104.54" width="1.6" height="2.52" fill="#84c83a"/>
<rect x="290.70" y="101.70" width="1" height="4.10" fill="#e9304c"/>
<rect x="290.40" y="102.52" width="1.6" height="2.46" fill="#e9304c"/>
<rect x="293.50" y="96.90" width="1" height="4.10" fill="#84c83a"/>
<rect x="293.20" y="97.72" width="1.6" height="2.46" fill="#84c83a"/>
<rect x="296.10" y="101.00" width="1" height="16.50" fill="#e9304c"/>
<rect x="295.80" y="104.30" width="1.6" height="9.90" fill="#e9304c"/>
<rect x="297.90" y="118.20" width="1" height="5.50" fill="#e9304c"/>
<rect x="297.60" y="119.30" width="1.6" height="3.30" fill="#e9304c"/>
<rect x="299.60" y="110.60" width="1" height="16.40" fill="#84c83a"/>
<rect x="299.30" y="113.88" width="1.6" height="9.84" fill="#84c83a"/>
<rect x="301.80" y="103.70" width="1" height="6.30" fill="#84c83a"/>
<rect x="301.50" y="104.96" width="1.6" height="3.78" fill="#84c83a"/>
<rect x="303.30" y="99.00" width="1" height="7.00" fill="#84c83a"/>
<rect x="303.00" y="100.40" width="1.6" height="4.20" fill="#84c83a"/>
<rect x="305.00" y="85.00" width="1" height="14.00" fill="#84c83a"/>
<rect x="304.70" y="87.80" width="1.6" height="8.40" fill="#c4e6a0"/>
<rect x="307.00" y="80.00" width="1" height="9.00" fill="#84c83a"/>
<rect x="306.70" y="81.80" width="1.6" height="5.40" fill="#c4e6a0"/>
<rect x="309.50" y="79.00" width="1" height="12.00" fill="#e9304c"/>
<rect x="309.20" y="81.40" width="1.6" height="7.20" fill="#f7b4c0"/>
<rect x="312.00" y="87.50" width="1" height="5.00" fill="#e9304c"/>
<rect x="311.70" y="88.50" width="1.6" height="3.00" fill="#f7b4c0"/>
<rect x="313.50" y="82.50" width="1" height="7.50" fill="#84c83a"/>
<rect x="313.20" y="84.00" width="1.6" height="4.50" fill="#84c83a"/>
<rect x="315.50" y="80.00" width="1" height="6.00" fill="#84c83a"/>
<rect x="315.20" y="81.20" width="1.6" height="3.60" fill="#84c83a"/>
<rect x="318.00" y="81.00" width="1" height="10.00" fill="#e9304c"/>
<rect x="317.70" y="83.00" width="1.6" height="6.00" fill="#e9304c"/>
<rect x="320.00" y="73.00" width="1" height="17.00" fill="#84c83a"/>
<rect x="319.70" y="76.40" width="1.6" height="10.20" fill="#84c83a"/>
<rect x="322.00" y="72.50" width="1" height="10.00" fill="#84c83a"/>
<rect x="321.70" y="74.50" width="1.6" height="6.00" fill="#84c83a"/>
<rect x="323.50" y="77.50" width="1" height="16.50" fill="#e9304c"/>
<rect x="323.20" y="80.80" width="1.6" height="9.90" fill="#e9304c"/>
<rect x="325.00" y="99.00" width="1" height="8.50" fill="#e9304c"/>
<rect x="324.70" y="100.70" width="1.6" height="5.10" fill="#e9304c"/>
<rect x="327.00" y="100.00" width="1" height="6.00" fill="#e9304c"/>
<rect x="326.70" y="101.20" width="1.6" height="3.60" fill="#f7b4c0"/>
<rect x="328.75" y="94.00" width="1" height="5.00" fill="#e9304c"/>
<rect x="328.45" y="95.00" width="1.6" height="3.00" fill="#f7b4c0"/>
<rect x="330.00" y="107.50" width="1" height="12.50" fill="#e9304c"/>
<rect x="329.70" y="110.00" width="1.6" height="7.50" fill="#f7b4c0"/>
<rect x="332.00" y="111.00" width="1" height="10.00" fill="#e9304c"/>
<rect x="331.70" y="113.00" width="1.6" height="6.00" fill="#f7b4c0"/>
<rect x="334.00" y="124.00" width="1" height="8.50" fill="#e9304c"/>
<rect x="333.70" y="125.70" width="1.6" height="5.10" fill="#e9304c"/>
<rect x="335.75" y="126.00" width="1" height="21.00" fill="#e9304c"/>
<rect x="335.45" y="130.20" width="1.6" height="12.60" fill="#e9304c"/>
<rect x="337.50" y="126.00" width="1" height="5.00" fill="#e9304c"/>
<rect x="337.20" y="127.00" width="1.6" height="3.00" fill="#e9304c"/>
<rect x="339.50" y="126.00" width="1" height="8.00" fill="#84c83a"/>
<rect x="339.20" y="127.60" width="1.6" height="4.80" fill="#84c83a"/>
<rect x="341.25" y="122.50" width="1" height="6.50" fill="#84c83a"/>
<rect x="340.95" y="123.80" width="1.6" height="3.90" fill="#84c83a"/>
<rect x="343.00" y="117.50" width="1" height="7.50" fill="#84c83a"/>
<rect x="342.70" y="119.00" width="1.6" height="4.50" fill="#84c83a"/>
<rect x="345.00" y="119.00" width="1" height="7.00" fill="#e9304c"/>
<rect x="344.70" y="120.40" width="1.6" height="4.20" fill="#f7b4c0"/>
<rect x="346.25" y="106.00" width="1" height="16.50" fill="#84c83a"/>
<rect x="345.95" y="109.30" width="1.6" height="9.90" fill="#84c83a"/>
<rect x="348.25" y="106.00" width="1" height="6.50" fill="#e9304c"/>
<rect x="347.95" y="107.30" width="1.6" height="3.90" fill="#e9304c"/>
<rect x="350.00" y="101.00" width="1" height="9.00" fill="#e9304c"/>
<rect x="349.70" y="102.80" width="1.6" height="5.40" fill="#e9304c"/>
<rect x="352.00" y="100.00" width="1" height="9.00" fill="#84c83a"/>
<rect x="351.70" y="101.80" width="1.6" height="5.40" fill="#84c83a"/>
<rect x="354.00" y="100.00" width="1" height="6.00" fill="#e9304c"/>
<rect x="353.70" y="101.20" width="1.6" height="3.60" fill="#e9304c"/>
<rect x="355.00" y="104.00" width="1" height="15.00" fill="#e9304c"/>
<rect x="354.70" y="107.00" width="1.6" height="9.00" fill="#e9304c"/>
<rect x="357.50" y="120.00" width="1" height="5.00" fill="#e9304c"/>
<rect x="357.20" y="121.00" width="1.6" height="3.00" fill="#e9304c"/>
<rect x="360.00" y="120.00" width="1" height="17.50" fill="#84c83a"/>
<rect x="359.70" y="123.50" width="1.6" height="10.50" fill="#84c83a"/>
<rect x="363.00" y="104.00" width="1" height="16.00" fill="#e9304c"/>
<rect x="362.70" y="107.20" width="1.6" height="9.60" fill="#e9304c"/>
<rect x="365.00" y="109.00" width="1" height="6.00" fill="#84c83a"/>
<rect x="364.70" y="110.20" width="1.6" height="3.60" fill="#84c83a"/>
<rect x="367.00" y="107.50" width="1" height="8.50" fill="#e9304c"/>
<rect x="366.70" y="109.20" width="1.6" height="5.10" fill="#e9304c"/>
<rect x="370.00" y="94.00" width="1" height="13.50" fill="#84c83a"/>
<rect x="369.70" y="96.70" width="1.6" height="8.10" fill="#84c83a"/>
<rect x="372.00" y="92.50" width="1" height="7.50" fill="#84c83a"/>
<rect x="371.70" y="94.00" width="1.6" height="4.50" fill="#84c83a"/>
<rect x="374.00" y="92.50" width="1" height="5.00" fill="#84c83a"/>
<rect x="373.70" y="93.50" width="1.6" height="3.00" fill="#84c83a"/>
<rect x="375.50" y="79.00" width="1" height="11.00" fill="#84c83a"/>
<rect x="375.20" y="81.20" width="1.6" height="6.60" fill="#c4e6a0"/>
<rect x="377.00" y="80.00" width="1" height="9.00" fill="#e9304c"/>
<rect x="376.70" y="81.80" width="1.6" height="5.40" fill="#f7b4c0"/>
<rect x="379.00" y="81.00" width="1" height="8.00" fill="#e9304c"/>
<rect x="378.70" y="82.60" width="1.6" height="4.80" fill="#f7b4c0"/>
<rect x="380.50" y="76.00" width="1" height="10.00" fill="#84c83a"/>
<rect x="380.20" y="78.00" width="1.6" height="6.00" fill="#84c83a"/>
<rect x="382.50" y="71.00" width="1" height="8.00" fill="#84c83a"/>
<rect x="382.20" y="72.60" width="1.6" height="4.80" fill="#84c83a"/>
<rect x="384.50" y="70.00" width="1" height="6.00" fill="#84c83a"/>
<rect x="384.20" y="71.20" width="1.6" height="3.60" fill="#c4e6a0"/>
<rect x="386.00" y="62.50" width="1" height="11.50" fill="#84c83a"/>
<rect x="385.70" y="64.80" width="1.6" height="6.90" fill="#84c83a"/>
<rect x="388.00" y="69.00" width="1" height="8.50" fill="#e9304c"/>
<rect x="387.70" y="70.70" width="1.6" height="5.10" fill="#e9304c"/>
<rect x="390.00" y="71.00" width="1" height="9.00" fill="#e9304c"/>
<rect x="389.70" y="72.80" width="1.6" height="5.40" fill="#e9304c"/>
<rect x="392.00" y="70.00" width="1" height="7.50" fill="#e9304c"/>
<rect x="391.70" y="71.50" width="1.6" height="4.50" fill="#e9304c"/>
<rect x="394.00" y="72.50" width="1" height="7.50" fill="#e9304c"/>
<rect x="393.70" y="74.00" width="1.6" height="4.50" fill="#e9304c"/>
<rect x="396.25" y="77.50" width="1" height="8.50" fill="#e9304c"/>
<rect x="395.95" y="79.20" width="1.6" height="5.10" fill="#f7b4c0"/>
<rect x="398.25" y="75.00" width="1" height="6.00" fill="#84c83a"/>
<rect x="397.95" y="76.20" width="1.6" height="3.60" fill="#c4e6a0"/>
<rect x="400.00" y="69.00" width="1" height="7.00" fill="#84c83a"/>
<rect x="399.70" y="70.40" width="1.6" height="4.20" fill="#84c83a"/>
<rect x="402.00" y="65.00" width="1" height="9.00" fill="#84c83a"/>
<rect x="401.70" y="66.80" width="1.6" height="5.40" fill="#84c83a"/>
<rect x="404.00" y="69.00" width="1" height="6.00" fill="#e9304c"/>
<rect x="403.70" y="70.20" width="1.6" height="3.60" fill="#e9304c"/>
<rect x="405.90" y="69.20" width="1" height="11.30" fill="#84c83a"/>
<rect x="405.60" y="71.46" width="1.6" height="6.78" fill="#84c83a"/>
<rect x="407.30" y="68.50" width="1" height="6.00" fill="#e9304c"/>
<rect x="407.00" y="69.70" width="1.6" height="3.60" fill="#e9304c"/>
<rect x="408.70" y="70.00" width="1" height="8.20" fill="#e9304c"/>
<rect x="408.40" y="71.64" width="1.6" height="4.92" fill="#e9304c"/>
<rect x="410.50" y="66.20" width="1" height="8.30" fill="#e9304c"/>
<rect x="410.20" y="67.86" width="1.6" height="4.98" fill="#e9304c"/>
<rect x="412.60" y="53.50" width="1" height="21.00" fill="#84c83a"/>
<rect x="412.30" y="57.70" width="1.6" height="12.60" fill="#84c83a"/>
<rect x="414.10" y="52.00" width="1" height="5.20" fill="#84c83a"/>
<rect x="413.80" y="53.04" width="1.6" height="3.12" fill="#c4e6a0"/>
<rect x="415.20" y="51.20" width="1" height="6.80" fill="#84c83a"/>
<rect x="414.90" y="52.56" width="1.6" height="4.08" fill="#c4e6a0"/>
<rect x="416.70" y="51.20" width="1" height="6.00" fill="#e9304c"/>
<rect x="416.40" y="52.40" width="1.6" height="3.60" fill="#f7b4c0"/>
<rect x="418.60" y="56.50" width="1" height="9.00" fill="#84c83a"/>
<rect x="418.30" y="58.30" width="1.6" height="5.40" fill="#84c83a"/>
<rect x="420.10" y="54.20" width="1" height="3.80" fill="#84c83a"/>
<rect x="419.80" y="54.96" width="1.6" height="2.28" fill="#c4e6a0"/>
<rect x="421.90" y="52.00" width="1" height="7.50" fill="#e9304c"/>
<rect x="421.60" y="53.50" width="1.6" height="4.50" fill="#e9304c"/>
<rect x="423.40" y="40.00" width="1" height="15.00" fill="#84c83a"/>
<rect x="423.10" y="43.00" width="1.6" height="9.00" fill="#84c83a"/>
<rect x="425.20" y="32.50" width="1" height="12.00" fill="#84c83a"/>
<rect x="424.90" y="34.90" width="1.6" height="7.20" fill="#84c83a"/>
<rect x="427.20" y="28.70" width="1" height="9.00" fill="#e9304c"/>
<rect x="426.90" y="30.50" width="1.6" height="5.40" fill="#e9304c"/>
<rect x="429.10" y="36.20" width="1" height="7.50" fill="#e9304c"/>
<rect x="428.80" y="37.70" width="1.6" height="4.50" fill="#e9304c"/>
<rect x="431.10" y="47.50" width="1" height="12.00" fill="#e9304c"/>
<rect x="430.80" y="49.90" width="1.6" height="7.20" fill="#e9304c"/>
<rect x="432.70" y="55.00" width="1" height="6.00" fill="#e9304c"/>
<rect x="432.40" y="56.20" width="1.6" height="3.60" fill="#e9304c"/>
<rect x="434.20" y="57.20" width="1" height="9.00" fill="#e9304c"/>
<rect x="433.90" y="59.00" width="1.6" height="5.40" fill="#e9304c"/>
<rect x="435.70" y="62.50" width="1" height="9.00" fill="#e9304c"/>
<rect x="435.40" y="64.30" width="1.6" height="5.40" fill="#e9304c"/>
<rect x="437.00" y="67.00" width="1" height="9.70" fill="#e9304c"/>
<rect x="436.70" y="68.94" width="1.6" height="5.82" fill="#e9304c"/>
<rect x="438.20" y="77.50" width="1" height="14.50" fill="#e9304c"/>
<rect x="437.90" y="80.40" width="1.6" height="8.70" fill="#e9304c"/>
<rect x="440.10" y="84.00" width="1" height="8.20" fill="#84c83a"/>
<rect x="439.80" y="85.64" width="1.6" height="4.92" fill="#84c83a"/>
<rect x="441.90" y="75.00" width="1" height="9.70" fill="#84c83a"/>
<rect x="441.60" y="76.94" width="1.6" height="5.82" fill="#c4e6a0"/>
<rect x="443.40" y="82.50" width="1" height="22.50" fill="#e9304c"/>
<rect x="443.10" y="87.00" width="1.6" height="13.50" fill="#e9304c"/>
<rect x="445.20" y="92.20" width="1" height="7.50" fill="#e9304c"/>
<rect x="444.90" y="93.70" width="1.6" height="4.50" fill="#f7b4c0"/>
<rect x="446.70" y="94.50" width="1" height="10.50" fill="#e9304c"/>
<rect x="446.40" y="96.60" width="1.6" height="6.30" fill="#f7b4c0"/>
<rect x="449.10" y="93.70" width="1" height="9.80" fill="#e9304c"/>
<rect x="448.80" y="95.66" width="1.6" height="5.88" fill="#e9304c"/>
<rect x="450.60" y="99.70" width="1" height="10.50" fill="#e9304c"/>
<rect x="450.30" y="101.80" width="1.6" height="6.30" fill="#f7b4c0"/>
<rect x="452.40" y="97.50" width="1" height="11.20" fill="#84c83a"/>
<rect x="452.10" y="99.74" width="1.6" height="6.72" fill="#84c83a"/>
<rect x="453.90" y="94.50" width="1" height="4.50" fill="#e9304c"/>
<rect x="453.60" y="95.40" width="1.6" height="2.70" fill="#e9304c"/>
<rect x="455.70" y="89.20" width="1" height="9.00" fill="#e9304c"/>
<rect x="455.40" y="91.00" width="1.6" height="5.40" fill="#e9304c"/>
<rect x="457.70" y="86.20" width="1" height="9.00" fill="#84c83a"/>
<rect x="457.40" y="88.00" width="1.6" height="5.40" fill="#84c83a"/>
<rect x="459.20" y="90.70" width="1" height="6.00" fill="#e9304c"/>
<rect x="458.90" y="91.90" width="1.6" height="3.60" fill="#e9304c"/>
<rect x="461.70" y="89.20" width="1" height="9.80" fill="#84c83a"/>
<rect x="461.40" y="91.16" width="1.6" height="5.88" fill="#84c83a"/>
<rect x="463.20" y="82.50" width="1" height="7.50" fill="#e9304c"/>
<rect x="462.90" y="84.00" width="1.6" height="4.50" fill="#e9304c"/>
<rect x="464.70" y="85.50" width="1" height="3.70" fill="#e9304c"/>
<rect x="464.40" y="86.24" width="1.6" height="2.22" fill="#f7b4c0"/>
<rect x="466.80" y="84.70" width="1" height="9.00" fill="#84c83a"/>
<rect x="466.50" y="86.50" width="1.6" height="5.40" fill="#84c83a"/>
<rect x="468.90" y="71.20" width="1" height="8.30" fill="#84c83a"/>
<rect x="468.60" y="72.86" width="1.6" height="4.98" fill="#c4e6a0"/>
<rect x="470.70" y="72.00" width="1" height="6.00" fill="#e9304c"/>
<rect x="470.40" y="73.20" width="1.6" height="3.60" fill="#f7b4c0"/>
<rect x="472.00" y="76.50" width="1" height="5.20" fill="#84c83a"/>
<rect x="471.70" y="77.54" width="1.6" height="3.12" fill="#84c83a"/>
<rect x="474.20" y="79.50" width="1" height="8.20" fill="#e9304c"/>
<rect x="473.90" y="81.14" width="1.6" height="4.92" fill="#e9304c"/>
<rect x="475.70" y="63.70" width="1" height="10.50" fill="#84c83a"/>
<rect x="475.40" y="65.80" width="1.6" height="6.30" fill="#84c83a"/>
<rect x="477.90" y="76.50" width="1" height="27.70" fill="#e9304c"/>
<rect x="477.60" y="82.04" width="1.6" height="16.62" fill="#e9304c"/>
<rect x="479.40" y="95.20" width="1" height="3.80" fill="#84c83a"/>
<rect x="479.10" y="95.96" width="1.6" height="2.28" fill="#84c83a"/>
<rect x="480.90" y="91.50" width="1" height="6.00" fill="#84c83a"/>
<rect x="480.60" y="92.70" width="1.6" height="3.60" fill="#84c83a"/>
<rect x="482.70" y="96.00" width="1" height="8.20" fill="#e9304c"/>
<rect x="482.40" y="97.64" width="1.6" height="4.92" fill="#e9304c"/>
<rect x="484.70" y="100.50" width="1" height="7.50" fill="#84c83a"/>
<rect x="484.40" y="102.00" width="1.6" height="4.50" fill="#84c83a"/>
<rect x="486.90" y="97.50" width="1" height="7.50" fill="#e9304c"/>
<rect x="486.60" y="99.00" width="1.6" height="4.50" fill="#e9304c"/>
<rect x="488.40" y="101.20" width="1" height="7.50" fill="#84c83a"/>
<rect x="488.10" y="102.70" width="1.6" height="4.50" fill="#84c83a"/>
<rect x="489.50" y="91.00" width="1" height="11.50" fill="#84c83a"/>
<rect x="489.20" y="93.30" width="1.6" height="6.90" fill="#84c83a"/>
<rect x="491.25" y="94.00" width="1" height="6.00" fill="#84c83a"/>
<rect x="490.95" y="95.20" width="1.6" height="3.60" fill="#84c83a"/>
<rect x="494.00" y="92.50" width="1" height="5.00" fill="#e9304c"/>
<rect x="493.70" y="93.50" width="1.6" height="3.00" fill="#e9304c"/>
<rect x="496.00" y="92.50" width="1" height="5.00" fill="#84c83a"/>
<rect x="495.70" y="93.50" width="1.6" height="3.00" fill="#84c83a"/>
<rect x="497.75" y="94.00" width="1" height="6.00" fill="#e9304c"/>
<rect x="497.45" y="95.20" width="1.6" height="3.60" fill="#e9304c"/>
<rect x="499.50" y="100.00" width="1" height="17.50" fill="#e9304c"/>
<rect x="499.20" y="103.50" width="1.6" height="10.50" fill="#e9304c"/>
<rect x="501.25" y="112.50" width="1" height="21.50" fill="#84c83a"/>
<rect x="500.95" y="116.80" width="1.6" height="12.90" fill="#84c83a"/>
<rect x="502.75" y="111.00" width="1" height="9.00" fill="#e9304c"/>
<rect x="502.45" y="112.80" width="1.6" height="5.40" fill="#f7b4c0"/>
<rect x="504.50" y="125.00" width="1" height="7.50" fill="#e9304c"/>
<rect x="504.20" y="126.50" width="1.6" height="4.50" fill="#e9304c"/>
<rect x="506.25" y="132.50" width="1" height="8.50" fill="#e9304c"/>
<rect x="505.95" y="134.20" width="1.6" height="5.10" fill="#e9304c"/>
<rect x="508.00" y="135.00" width="1" height="4.00" fill="#e9304c"/>
<rect x="507.70" y="135.80" width="1.6" height="2.40" fill="#e9304c"/>
<rect x="510.00" y="134.00" width="1" height="5.00" fill="#84c83a"/>
<rect x="509.70" y="135.00" width="1.6" height="3.00" fill="#c4e6a0"/>
<rect x="512.00" y="135.00" width="1" height="5.00" fill="#e9304c"/>
<rect x="511.70" y="136.00" width="1.6" height="3.00" fill="#f7b4c0"/>
<rect x="514.00" y="129.00" width="1" height="8.50" fill="#84c83a"/>
<rect x="513.70" y="130.70" width="1.6" height="5.10" fill="#84c83a"/>
<rect x="515.75" y="122.50" width="1" height="10.00" fill="#84c83a"/>
<rect x="515.45" y="124.50" width="1.6" height="6.00" fill="#c4e6a0"/>
<rect x="517.50" y="120.00" width="1" height="6.00" fill="#84c83a"/>
<rect x="517.20" y="121.20" width="1.6" height="3.60" fill="#c4e6a0"/>
<rect x="519.00" y="115.00" width="1" height="9.00" fill="#e9304c"/>
<rect x="518.70" y="116.80" width="1.6" height="5.40" fill="#f7b4c0"/>
<rect x="520.50" y="120.00" width="1" height="4.00" fill="#84c83a"/>
<rect x="520.20" y="120.80" width="1.6" height="2.40" fill="#84c83a"/>
<rect x="522.00" y="120.00" width="1" height="4.00" fill="#e9304c"/>
<rect x="521.70" y="120.80" width="1.6" height="2.40" fill="#e9304c"/>
<rect x="524.00" y="119.00" width="1" height="7.00" fill="#84c83a"/>
<rect x="523.70" y="120.40" width="1.6" height="4.20" fill="#84c83a"/>
<rect x="525.50" y="121.00" width="1" height="4.00" fill="#e9304c"/>
<rect x="525.20" y="121.80" width="1.6" height="2.40" fill="#f7b4c0"/>
<rect x="527.75" y="120.00" width="1" height="12.50" fill="#e9304c"/>
<rect x="527.45" y="122.50" width="1.6" height="7.50" fill="#e9304c"/>
<rect x="529.50" y="131.00" width="1" height="19.00" fill="#e9304c"/>
<rect x="529.20" y="134.80" width="1.6" height="11.40" fill="#e9304c"/>
<rect x="531.25" y="147.50" width="1" height="7.50" fill="#e9304c"/>
<rect x="530.95" y="149.00" width="1.6" height="4.50" fill="#f7b4c0"/>
<rect x="533.00" y="149.00" width="1" height="11.00" fill="#84c83a"/>
<rect x="532.70" y="151.20" width="1.6" height="6.60" fill="#84c83a"/>
<rect x="535.00" y="150.00" width="1" height="12.50" fill="#84c83a"/>
<rect x="534.70" y="152.50" width="1.6" height="7.50" fill="#84c83a"/>
<rect x="537.00" y="152.50" width="1" height="12.50" fill="#e9304c"/>
<rect x="536.70" y="155.00" width="1.6" height="7.50" fill="#f7b4c0"/>
<rect x="539.00" y="159.00" width="1" height="22.00" fill="#e9304c"/>
<rect x="538.70" y="163.40" width="1.6" height="13.20" fill="#e9304c"/>
<rect x="540.50" y="160.00" width="1" height="12.50" fill="#e9304c"/>
<rect x="540.20" y="162.50" width="1.6" height="7.50" fill="#e9304c"/>
<rect x="542.00" y="160.00" width="1" height="7.50" fill="#e9304c"/>
<rect x="541.70" y="161.50" width="1.6" height="4.50" fill="#e9304c"/>
<rect x="544.00" y="161.00" width="1" height="13.00" fill="#84c83a"/>
<rect x="543.70" y="163.60" width="1.6" height="7.80" fill="#84c83a"/>
<rect x="545.75" y="162.50" width="1" height="10.00" fill="#84c83a"/>
<rect x="545.45" y="164.50" width="1.6" height="6.00" fill="#84c83a"/>
<rect x="547.75" y="157.50" width="1" height="12.50" fill="#84c83a"/>
<rect x="547.45" y="160.00" width="1.6" height="7.50" fill="#c4e6a0"/>
<rect x="549.50" y="152.50" width="1" height="12.50" fill="#84c83a"/>
<rect x="549.20" y="155.00" width="1.6" height="7.50" fill="#84c83a"/>
<rect x="551.25" y="151.00" width="1" height="8.00" fill="#e9304c"/>
<rect x="550.95" y="152.60" width="1.6" height="4.80" fill="#e9304c"/>
<rect x="553.00" y="151.00" width="1" height="9.00" fill="#e9304c"/>
<rect x="552.70" y="152.80" width="1.6" height="5.40" fill="#e9304c"/>
<rect x="555.00" y="145.00" width="1" height="11.00" fill="#84c83a"/>
<rect x="554.70" y="147.20" width="1.6" height="6.60" fill="#c4e6a0"/>
<rect x="557.00" y="146.00" width="1" height="13.00" fill="#e9304c"/>
<rect x="556.70" y="148.60" width="1.6" height="7.80" fill="#e9304c"/>
<rect x="559.00" y="155.00" width="1" height="10.00" fill="#e9304c"/>
<rect x="558.70" y="157.00" width="1.6" height="6.00" fill="#e9304c"/>
<rect x="560.50" y="156.00" width="1" height="11.50" fill="#e9304c"/>
<rect x="560.20" y="158.30" width="1.6" height="6.90" fill="#f7b4c0"/>
<rect x="562.00" y="156.00" width="1" height="11.50" fill="#84c83a"/>
<rect x="561.70" y="158.30" width="1.6" height="6.90" fill="#84c83a"/>
<rect x="564.00" y="152.50" width="1" height="20.00" fill="#84c83a"/>
<rect x="563.70" y="156.50" width="1.6" height="12.00" fill="#84c83a"/>
<rect x="565.75" y="147.50" width="1" height="8.50" fill="#84c83a"/>
<rect x="565.45" y="149.20" width="1.6" height="5.10" fill="#c4e6a0"/>
<rect x="567.75" y="149.00" width="1" height="12.00" fill="#e9304c"/>
<rect x="567.45" y="151.40" width="1.6" height="7.20" fill="#e9304c"/>
<rect x="569.00" y="163.50" width="1" height="15.80" fill="#e9304c"/>
<rect x="568.70" y="166.66" width="1.6" height="9.48" fill="#e9304c"/>
<rect x="570.70" y="179.30" width="1" height="9.60" fill="#e9304c"/>
<rect x="570.40" y="181.22" width="1.6" height="5.76" fill="#e9304c"/>
<rect x="573.00" y="181.90" width="1" height="20.10" fill="#84c83a"/>
<rect x="572.70" y="185.92" width="1.6" height="12.06" fill="#84c83a"/>
<rect x="574.70" y="186.30" width="1" height="19.20" fill="#e9304c"/>
<rect x="574.40" y="190.14" width="1.6" height="11.52" fill="#e9304c"/>
<rect x="576.00" y="184.50" width="1" height="33.30" fill="#84c83a"/>
<rect x="575.70" y="191.16" width="1.6" height="19.98" fill="#84c83a"/>
<rect x="577.70" y="186.30" width="1" height="11.40" fill="#e9304c"/>
<rect x="577.40" y="188.58" width="1.6" height="6.84" fill="#e9304c"/>
<rect x="579.50" y="193.30" width="1" height="11.40" fill="#84c83a"/>
<rect x="579.20" y="195.58" width="1.6" height="6.84" fill="#c4e6a0"/>
<rect x="581.80" y="185.40" width="1" height="12.30" fill="#84c83a"/>
<rect x="581.50" y="187.86" width="1.6" height="7.38" fill="#c4e6a0"/>
<rect x="584.00" y="167.90" width="1" height="16.60" fill="#e9304c"/>
<rect x="583.70" y="171.22" width="1.6" height="9.96" fill="#e9304c"/>
<rect x="585.30" y="184.50" width="1" height="19.30" fill="#e9304c"/>
<rect x="585.00" y="188.36" width="1.6" height="11.58" fill="#e9304c"/>
<rect x="587.00" y="199.40" width="1" height="9.60" fill="#e9304c"/>
<rect x="586.70" y="201.32" width="1.6" height="5.76" fill="#f7b4c0"/>
<rect x="588.80" y="203.80" width="1" height="7.90" fill="#e9304c"/>
<rect x="588.50" y="205.38" width="1.6" height="4.74" fill="#f7b4c0"/>
<rect x="592.00" y="217.50" width="1" height="40.50" fill="#e9304c"/>
<rect x="591.70" y="225.60" width="1.6" height="24.30" fill="#e9304c"/>
<rect x="594.25" y="255.00" width="1" height="18.00" fill="#84c83a"/>
<rect x="593.95" y="258.60" width="1.6" height="10.80" fill="#84c83a"/>
<rect x="596.00" y="252.00" width="1" height="12.00" fill="#84c83a"/>
<rect x="595.70" y="254.40" width="1.6" height="7.20" fill="#84c83a"/>
<rect x="597.75" y="234.00" width="1" height="18.00" fill="#84c83a"/>
<rect x="597.45" y="237.60" width="1.6" height="10.80" fill="#84c83a"/>
<rect x="600.25" y="219.00" width="1" height="12.00" fill="#84c83a"/>
<rect x="599.95" y="221.40" width="1.6" height="7.20" fill="#c4e6a0"/>
<rect x="601.75" y="210.00" width="1" height="15.00" fill="#84c83a"/>
<rect x="601.45" y="213.00" width="1.6" height="9.00" fill="#84c83a"/>
<rect x="603.25" y="210.00" width="1" height="15.00" fill="#e9304c"/>
<rect x="602.95" y="213.00" width="1.6" height="9.00" fill="#e9304c"/>
<rect x="604.75" y="195.00" width="1" height="21.00" fill="#e9304c"/>
<rect x="604.45" y="199.20" width="1.6" height="12.60" fill="#e9304c"/>
<rect x="607.00" y="210.00" width="1" height="18.00" fill="#e9304c"/>
<rect x="606.70" y="213.60" width="1.6" height="10.80" fill="#e9304c"/>
<rect x="609.25" y="216.00" width="1" height="13.50" fill="#e9304c"/>
<rect x="608.95" y="218.70" width="1.6" height="8.10" fill="#f7b4c0"/>
<rect x="611.25" y="220.50" width="1" height="10.50" fill="#84c83a"/>
<rect x="610.95" y="222.60" width="1.6" height="6.30" fill="#84c83a"/>
<rect x="613.00" y="225.00" width="1" height="12.00" fill="#e9304c"/>
<rect x="612.70" y="227.40" width="1.6" height="7.20" fill="#e9304c"/>
<rect x="615.90" y="226.60" width="1" height="32.40" fill="#e9304c"/>
<rect x="615.60" y="233.08" width="1.6" height="19.44" fill="#e9304c"/>
<rect x="618.00" y="244.50" width="1" height="17.90" fill="#84c83a"/>
<rect x="617.70" y="248.08" width="1.6" height="10.74" fill="#84c83a"/>
<rect x="619.60" y="247.80" width="1" height="13.00" fill="#84c83a"/>
<rect x="619.30" y="250.40" width="1.6" height="7.80" fill="#84c83a"/>
<rect x="621.20" y="251.80" width="1" height="10.60" fill="#84c83a"/>
<rect x="620.90" y="253.92" width="1.6" height="6.36" fill="#84c83a"/>
<rect x="622.90" y="252.60" width="1" height="9.80" fill="#e9304c"/>
<rect x="622.60" y="254.56" width="1.6" height="5.88" fill="#f7b4c0"/>
<rect x="624.70" y="242.00" width="1" height="18.80" fill="#e9304c"/>
<rect x="624.40" y="245.76" width="1.6" height="11.28" fill="#e9304c"/>
<rect x="626.80" y="247.80" width="1" height="25.20" fill="#84c83a"/>
<rect x="626.50" y="252.84" width="1.6" height="15.12" fill="#84c83a"/>
<rect x="628.40" y="247.00" width="1" height="11.30" fill="#84c83a"/>
<rect x="628.10" y="249.26" width="1.6" height="6.78" fill="#84c83a"/>
<rect x="630.10" y="249.40" width="1" height="5.60" fill="#e9304c"/>
<rect x="629.80" y="250.52" width="1.6" height="3.36" fill="#e9304c"/>
<rect x="632.10" y="246.00" width="1" height="8.30" fill="#84c83a"/>
<rect x="631.80" y="247.66" width="1.6" height="4.98" fill="#84c83a"/>
<rect x="633.70" y="235.60" width="1" height="9.70" fill="#84c83a"/>
<rect x="633.40" y="237.54" width="1.6" height="5.82" fill="#84c83a"/>
<rect x="635.90" y="238.00" width="1" height="9.80" fill="#e9304c"/>
<rect x="635.60" y="239.96" width="1.6" height="5.88" fill="#e9304c"/>
<rect x="637.50" y="240.40" width="1" height="3.30" fill="#e9304c"/>
<rect x="637.20" y="241.06" width="1.6" height="1.98" fill="#f7b4c0"/>
<rect x="639.10" y="229.00" width="1" height="7.40" fill="#84c83a"/>
<rect x="638.80" y="230.48" width="1.6" height="4.44" fill="#c4e6a0"/>
<rect x="641.10" y="232.30" width="1" height="9.00" fill="#e9304c"/>
<rect x="640.80" y="234.10" width="1.6" height="5.40" fill="#e9304c"/>
<rect x="643.00" y="207.00" width="1" height="9.00" fill="#e9304c"/>
<rect x="642.70" y="208.80" width="1.6" height="5.40" fill="#f7b4c0"/>
<rect x="645.00" y="218.00" width="1" height="9.50" fill="#e9304c"/>
<rect x="644.70" y="219.90" width="1.6" height="5.70" fill="#f7b4c0"/>
<rect x="646.30" y="230.70" width="1" height="8.10" fill="#e9304c"/>
<rect x="646.00" y="232.32" width="1.6" height="4.86" fill="#f7b4c0"/>
<rect x="648.40" y="246.00" width="1" height="18.00" fill="#e9304c"/>
<rect x="648.10" y="249.60" width="1.6" height="10.80" fill="#e9304c"/>
<rect x="650.00" y="253.50" width="1" height="11.30" fill="#e9304c"/>
<rect x="649.70" y="255.76" width="1.6" height="6.78" fill="#f7b4c0"/>
<rect x="652.10" y="260.00" width="1" height="21.00" fill="#e9304c"/>
<rect x="651.80" y="264.20" width="1.6" height="12.60" fill="#e9304c"/>
<rect x="653.70" y="255.00" width="1" height="13.00" fill="#84c83a"/>
<rect x="653.40" y="257.60" width="1.6" height="7.80" fill="#84c83a"/>
<rect x="655.40" y="255.00" width="1" height="10.60" fill="#84c83a"/>
<rect x="655.10" y="257.12" width="1.6" height="6.36" fill="#84c83a"/>
<rect x="657.30" y="251.80" width="1" height="4.90" fill="#e9304c"/>
<rect x="657.00" y="252.78" width="1.6" height="2.94" fill="#f7b4c0"/>
<rect x="659.10" y="253.50" width="1" height="12.10" fill="#84c83a"/>
<rect x="658.80" y="255.92" width="1.6" height="7.26" fill="#84c83a"/>
<rect x="661.00" y="255.00" width="1" height="11.50" fill="#e9304c"/>
<rect x="660.70" y="257.30" width="1.6" height="6.90" fill="#f7b4c0"/>
<rect x="662.60" y="253.50" width="1" height="14.50" fill="#84c83a"/>
<rect x="662.30" y="256.40" width="1.6" height="8.70" fill="#84c83a"/>
<rect x="664.60" y="261.60" width="1" height="6.40" fill="#e9304c"/>
<rect x="664.30" y="262.88" width="1.6" height="3.84" fill="#f7b4c0"/>
<rect x="666.30" y="262.40" width="1" height="11.40" fill="#e9304c"/>
<rect x="666.00" y="264.68" width="1.6" height="6.84" fill="#f7b4c0"/>
<rect x="667.90" y="258.30" width="1" height="15.50" fill="#84c83a"/>
<rect x="667.60" y="261.40" width="1.6" height="9.30" fill="#84c83a"/>
<rect x="670.00" y="255.90" width="1" height="13.80" fill="#e9304c"/>
<rect x="669.70" y="258.66" width="1.6" height="8.28" fill="#e9304c"/>
<rect x="671.20" y="255.00" width="1" height="10.60" fill="#84c83a"/>
<rect x="670.90" y="257.12" width="1.6" height="6.36" fill="#84c83a"/>
<rect x="672.80" y="256.70" width="1" height="8.90" fill="#e9304c"/>
<rect x="672.50" y="258.48" width="1.6" height="5.34" fill="#f7b4c0"/>
<rect x="675.30" y="271.30" width="1" height="14.70" fill="#e9304c"/>
<rect x="675.00" y="274.24" width="1.6" height="8.82" fill="#e9304c"/>
<line x1="12.8" y1="218.8" x2="679" y2="218.8" stroke="#1a1a1a" stroke-width="1.8"/>
<line x1="594.5" y1="274.6" x2="679" y2="274.6" stroke="#1a1a1a" stroke-width="1.7"/>
<path d="M0.00,201.60 C1.88,202.33 7.68,204.77 11.25,206.00 C14.82,207.23 17.65,208.42 21.40,209.00 C25.15,209.58 29.82,209.33 33.75,209.50 C37.68,209.67 41.62,209.58 45.00,210.00 C48.38,210.42 51.38,211.90 54.00,212.00 C56.62,212.10 58.12,211.20 60.75,210.60 C63.38,210.00 67.88,208.83 69.75,208.40 C71.62,207.97 69.62,209.57 72.00,208.00 C74.38,206.43 80.67,201.67 84.00,199.00 C87.33,196.33 89.33,194.08 92.00,192.00 C94.67,189.92 96.67,188.92 100.00,186.50 C103.33,184.08 108.00,180.25 112.00,177.50 C116.00,174.75 120.50,172.00 124.00,170.00 C127.50,168.00 130.50,167.25 133.00,165.50 C135.50,163.75 136.50,162.75 139.00,159.50 C141.50,156.25 145.00,150.25 148.00,146.00 C151.00,141.75 154.50,137.25 157.00,134.00 C159.50,130.75 160.50,129.25 163.00,126.50 C165.50,123.75 169.25,120.75 172.00,117.50 C174.75,114.25 177.33,109.33 179.50,107.00 C181.67,104.67 182.92,104.58 185.00,103.50 C187.08,102.42 189.50,101.50 192.00,100.50 C194.50,99.50 197.33,98.42 200.00,97.50 C202.67,96.58 205.50,95.88 208.00,95.00 C210.50,94.12 212.83,92.92 215.00,92.20 C217.17,91.48 219.25,91.33 221.00,90.70 C222.75,90.07 223.75,88.90 225.50,88.40 C227.25,87.90 229.50,87.68 231.50,87.70 C233.50,87.72 235.25,88.03 237.50,88.50 C239.75,88.97 242.92,90.08 245.00,90.50 C247.08,90.92 247.50,90.46 250.00,91.00 C252.50,91.54 257.08,92.67 260.00,93.75 C262.92,94.83 265.00,96.38 267.50,97.50 C270.00,98.62 272.08,99.96 275.00,100.50 C277.92,101.04 281.67,100.75 285.00,100.75 C288.33,100.75 291.67,100.62 295.00,100.50 C298.33,100.38 301.67,100.42 305.00,100.00 C308.33,99.58 311.67,98.42 315.00,98.00 C318.33,97.58 322.50,97.25 325.00,97.50 C327.50,97.75 327.50,98.25 330.00,99.50 C332.50,100.75 337.08,103.75 340.00,105.00 C342.92,106.25 344.58,106.67 347.50,107.00 C350.42,107.33 354.58,107.08 357.50,107.00 C360.42,106.92 362.92,106.67 365.00,106.50 C367.08,106.33 368.33,106.38 370.00,106.00 C371.67,105.62 372.92,104.87 375.00,104.20 C377.08,103.53 380.00,102.82 382.50,102.00 C385.00,101.18 387.50,99.93 390.00,99.30 C392.50,98.67 395.00,98.55 397.50,98.20 C400.00,97.85 402.50,97.70 405.00,97.20 C407.50,96.70 410.00,96.15 412.50,95.20 C415.00,94.25 417.75,92.87 420.00,91.50 C422.25,90.13 424.00,88.63 426.00,87.00 C428.00,85.37 430.25,83.08 432.00,81.70 C433.75,80.32 435.00,79.32 436.50,78.70 C438.00,78.08 439.17,78.28 441.00,78.00 C442.83,77.72 444.33,77.50 447.50,77.00 C450.67,76.50 456.25,75.42 460.00,75.00 C463.75,74.58 466.67,74.40 470.00,74.50 C473.33,74.60 476.83,75.12 480.00,75.60 C483.17,76.08 486.00,76.50 489.00,77.40 C492.00,78.30 495.00,79.40 498.00,81.00 C501.00,82.60 504.00,84.40 507.00,87.00 C510.00,89.60 513.00,94.10 516.00,96.60 C519.00,99.10 522.00,100.10 525.00,102.00 C528.00,103.90 531.00,106.00 534.00,108.00 C537.00,110.00 540.00,112.00 543.00,114.00 C546.00,116.00 549.50,118.25 552.00,120.00 C554.50,121.75 556.00,122.50 558.00,124.50 C560.00,126.50 561.50,129.50 564.00,132.00 C566.50,134.50 569.71,136.50 573.00,139.50 C576.29,142.50 581.08,147.25 583.75,150.00 C586.42,152.75 587.12,153.75 589.00,156.00 C590.88,158.25 592.75,161.00 595.00,163.50 C597.25,166.00 600.25,168.75 602.50,171.00 C604.75,173.25 606.75,175.00 608.50,177.00 C610.25,179.00 611.25,180.75 613.00,183.00 C614.75,185.25 617.00,188.00 619.00,190.50 C621.00,193.00 623.00,195.75 625.00,198.00 C627.00,200.25 628.88,202.00 631.00,204.00 C633.12,206.00 635.78,208.42 637.70,210.00 C639.62,211.58 640.87,212.04 642.50,213.50 C644.13,214.96 645.42,216.42 647.50,218.75 C649.58,221.08 653.12,225.42 655.00,227.50 C656.88,229.58 656.67,229.50 658.75,231.25 C660.83,233.00 664.88,235.79 667.50,238.00 C670.12,240.21 673.08,243.17 674.50,244.50 C675.92,245.83 675.75,245.75 676.00,246.00" fill="none" stroke="#4393ea" stroke-width="1.5" stroke-linejoin="round" stroke-linecap="round"/>
<line x1="605" y1="195.3" x2="668" y2="214.3" stroke="#34475a" stroke-width="1.8" stroke-dasharray="3,2.2"/>
<line x1="675.5" y1="285.7" x2="679" y2="285.7" stroke="#f0a020" stroke-width="1"/>
<rect x="0" y="308.7" width="700" height="3.2" fill="#2e2e2e"/>
<rect x="0" y="309.9" width="700" height="0.9" fill="#464646"/>
<rect x="347" y="308.7" width="5.6" height="3.2" fill="#767676"/>
<line x1="679.3" y1="0" x2="679.3" y2="309" stroke="#8c8c8c" stroke-width="1.3"/>
<line x1="679.3" y1="311" x2="679.3" y2="378" stroke="#5a5a5a" stroke-width="1.3"/>
<line x1="0" y1="377.3" x2="679.6" y2="377.3" stroke="#555" stroke-width="1.2"/>
<line x1="29.5" y1="377" x2="29.5" y2="380" stroke="#555" stroke-width="1"/>
<line x1="68.5" y1="377" x2="68.5" y2="380" stroke="#555" stroke-width="1"/>
<line x1="106.5" y1="377" x2="106.5" y2="380" stroke="#555" stroke-width="1"/>
<line x1="145.5" y1="377" x2="145.5" y2="380" stroke="#555" stroke-width="1"/>
<line x1="185.5" y1="377" x2="185.5" y2="380" stroke="#555" stroke-width="1"/>
<line x1="219.5" y1="377" x2="219.5" y2="380" stroke="#555" stroke-width="1"/>
<line x1="258.5" y1="377" x2="258.5" y2="380" stroke="#555" stroke-width="1"/>
<line x1="295.5" y1="377" x2="295.5" y2="380" stroke="#555" stroke-width="1"/>
<line x1="332.5" y1="377" x2="332.5" y2="380" stroke="#555" stroke-width="1"/>
<line x1="368.5" y1="377" x2="368.5" y2="380" stroke="#555" stroke-width="1"/>
<line x1="408.5" y1="377" x2="408.5" y2="380" stroke="#555" stroke-width="1"/>
<line x1="446.5" y1="377" x2="446.5" y2="380" stroke="#555" stroke-width="1"/>
<line x1="485.5" y1="377" x2="485.5" y2="380" stroke="#555" stroke-width="1"/>
<line x1="524.5" y1="377" x2="524.5" y2="380" stroke="#555" stroke-width="1"/>
<line x1="560.5" y1="377" x2="560.5" y2="380" stroke="#555" stroke-width="1"/>
<line x1="601.5" y1="377" x2="601.5" y2="380" stroke="#555" stroke-width="1"/>
<line x1="641.5" y1="377" x2="641.5" y2="380" stroke="#555" stroke-width="1"/>
<line x1="672.5" y1="377" x2="672.5" y2="380" stroke="#555" stroke-width="1"/>
<line x1="219.5" y1="387.5" x2="219.5" y2="399" stroke="#8a8a8a" stroke-width="1"/>
<line x1="672.5" y1="387.5" x2="672.5" y2="399" stroke="#8a8a8a" stroke-width="1"/>
<rect x="0" y="399" width="700" height="1" fill="#1c1c44"/>
<text transform="translate(10,386.9) scale(0.5,1)" font-family="Liberation Sans, sans-serif" font-size="9.4" text-anchor="middle" fill="#222" stroke="#222" stroke-width="0.3" font-weight="normal">Lug</text>
<text transform="translate(48.75,386.9) scale(0.5,1)" font-family="Liberation Sans, sans-serif" font-size="9.4" text-anchor="middle" fill="#222" stroke="#222" stroke-width="0.3" font-weight="normal">Ago</text>
<text transform="translate(87.5,386.9) scale(0.5,1)" font-family="Liberation Sans, sans-serif" font-size="9.4" text-anchor="middle" fill="#222" stroke="#222" stroke-width="0.3" font-weight="normal">Set</text>
<text transform="translate(125.75,386.9) scale(0.5,1)" font-family="Liberation Sans, sans-serif" font-size="9.4" text-anchor="middle" fill="#222" stroke="#222" stroke-width="0.3" font-weight="normal">Ott</text>
<text transform="translate(165,386.9) scale(0.5,1)" font-family="Liberation Sans, sans-serif" font-size="9.4" text-anchor="middle" fill="#222" stroke="#222" stroke-width="0.3" font-weight="normal">Nov</text>
<text transform="translate(202.5,386.9) scale(0.5,1)" font-family="Liberation Sans, sans-serif" font-size="9.4" text-anchor="middle" fill="#222" stroke="#222" stroke-width="0.3" font-weight="normal">Dic</text>
<text transform="translate(238.75,386.9) scale(0.5,1)" font-family="Liberation Sans, sans-serif" font-size="9.4" text-anchor="middle" fill="#222" stroke="#222" stroke-width="0.3" font-weight="normal">Gen</text>
<text transform="translate(276,386.9) scale(0.5,1)" font-family="Liberation Sans, sans-serif" font-size="9.4" text-anchor="middle" fill="#222" stroke="#222" stroke-width="0.3" font-weight="normal">Feb</text>
<text transform="translate(313.75,386.9) scale(0.5,1)" font-family="Liberation Sans, sans-serif" font-size="9.4" text-anchor="middle" fill="#222" stroke="#222" stroke-width="0.3" font-weight="normal">Mar</text>
<text transform="translate(350,386.9) scale(0.5,1)" font-family="Liberation Sans, sans-serif" font-size="9.4" text-anchor="middle" fill="#222" stroke="#222" stroke-width="0.3" font-weight="normal">Apr</text>
<text transform="translate(388,386.9) scale(0.5,1)" font-family="Liberation Sans, sans-serif" font-size="9.4" text-anchor="middle" fill="#222" stroke="#222" stroke-width="0.3" font-weight="normal">Mag</text>
<text transform="translate(425.75,386.9) scale(0.5,1)" font-family="Liberation Sans, sans-serif" font-size="9.4" text-anchor="middle" fill="#222" stroke="#222" stroke-width="0.3" font-weight="normal">Giu</text>
<text transform="translate(465.75,386.9) scale(0.5,1)" font-family="Liberation Sans, sans-serif" font-size="9.4" text-anchor="middle" fill="#222" stroke="#222" stroke-width="0.3" font-weight="normal">Lug</text>
<text transform="translate(505,386.9) scale(0.5,1)" font-family="Liberation Sans, sans-serif" font-size="9.4" text-anchor="middle" fill="#222" stroke="#222" stroke-width="0.3" font-weight="normal">Ago</text>
<text transform="translate(542.6,386.9) scale(0.5,1)" font-family="Liberation Sans, sans-serif" font-size="9.4" text-anchor="middle" fill="#222" stroke="#222" stroke-width="0.3" font-weight="normal">Set</text>
<text transform="translate(581,386.9) scale(0.5,1)" font-family="Liberation Sans, sans-serif" font-size="9.4" text-anchor="middle" fill="#222" stroke="#222" stroke-width="0.3" font-weight="normal">Ott</text>
<text transform="translate(621.3,386.9) scale(0.5,1)" font-family="Liberation Sans, sans-serif" font-size="9.4" text-anchor="middle" fill="#222" stroke="#222" stroke-width="0.3" font-weight="normal">Nov</text>
<text transform="translate(656.6,386.9) scale(0.5,1)" font-family="Liberation Sans, sans-serif" font-size="9.4" text-anchor="middle" fill="#222" stroke="#222" stroke-width="0.3" font-weight="normal">Dic</text>
<rect x="51.3" y="390" width="21.8" height="8.6" fill="#a8f0f4"/>
<text transform="translate(62.3,397.5) scale(0.63,1)" font-family="Liberation Sans, sans-serif" font-size="8.4" text-anchor="middle" fill="#222" stroke="#222" stroke-width="0.3" font-weight="normal">08/25/17</text>
<text transform="translate(109.4,397.5) scale(0.63,1)" font-family="Liberation Sans, sans-serif" font-size="8.4" text-anchor="middle" fill="#222" stroke="#222" stroke-width="0.3" font-weight="normal">2017</text>
<text transform="translate(445.6,397.5) scale(0.63,1)" font-family="Liberation Sans, sans-serif" font-size="8.4" text-anchor="middle" fill="#222" stroke="#222" stroke-width="0.3" font-weight="normal">2018</text>
<polygon points="679.5,77.8 682.3,80 679.5,82.2" fill="#111"/>
<text transform="translate(682.7,83.5) scale(0.5,1)" font-family="Liberation Sans, sans-serif" font-size="9.6" text-anchor="start" fill="#111" stroke="#111" stroke-width="0.15" font-weight="normal">20</text>
<polygon points="679.5,180.3 682.3,182.5 679.5,184.7" fill="#111"/>
<text transform="translate(682.7,186.0) scale(0.5,1)" font-family="Liberation Sans, sans-serif" font-size="9.6" text-anchor="start" fill="#111" stroke="#111" stroke-width="0.15" font-weight="normal">15</text>
<polygon points="679.5,315.8 682.3,318 679.5,320.2" fill="#111"/>
<text transform="translate(682.7,321.5) scale(0.5,1)" font-family="Liberation Sans, sans-serif" font-size="9.6" text-anchor="start" fill="#111" stroke="#111" stroke-width="0.15" font-weight="normal">100</text>
<polygon points="679.5,342.3 682.3,344.5 679.5,346.7" fill="#111"/>
<text transform="translate(682.7,348.0) scale(0.5,1)" font-family="Liberation Sans, sans-serif" font-size="9.6" text-anchor="start" fill="#111" stroke="#111" stroke-width="0.15" font-weight="normal">50</text>
<polygon points="679.5,369.8 682.3,372 679.5,374.2" fill="#111"/>
<text transform="translate(682.7,375.5) scale(0.5,1)" font-family="Liberation Sans, sans-serif" font-size="9.6" text-anchor="start" fill="#111" stroke="#111" stroke-width="0.15" font-weight="normal">0</text>
<text transform="translate(690.6,141.6) scale(0.73,1) rotate(90)" font-family="Liberation Sans, sans-serif" font-size="15" fill="#adadad">Log</text>
<rect x="679.5" y="165.8" width="17.5" height="7.2" fill="#aef2f2"/>
<text transform="translate(688.1,172.1) scale(0.6,1)" font-family="Liberation Sans, sans-serif" font-size="8.4" text-anchor="middle" fill="#1a1a1a" stroke="#1a1a1a" stroke-width="0.05" font-weight="normal">15.5829</text>
<polygon points="679.6,246.1 682.5,240.6 700,240.6 700,251.7 682.5,251.7" fill="#4aa3ee" stroke="#2a6fb0" stroke-width="0.6"/>
<text transform="translate(691,249.5) scale(0.58,1)" font-family="Liberation Sans, sans-serif" font-size="9" text-anchor="middle" fill="#0a1a30" stroke="#0a1a30" stroke-width="0.12" font-weight="normal">12.5959</text>
<polygon points="679.4,285.9 682.3,280.3 700,280.3 700,291.5 682.3,291.5" fill="#84c814" stroke="#5a8a10" stroke-width="0.6"/>
<text transform="translate(688.5,289.3) scale(0.58,1)" font-family="Liberation Sans, sans-serif" font-size="9" text-anchor="middle" fill="#1a2a00" stroke="#1a2a00" stroke-width="0.12" font-weight="normal">11.28</text>
<polygon points="679.7,352 682.6,346.2 700,346.2 700,357.7 682.6,357.7" fill="#e81c3c" stroke="#a01020" stroke-width="0.6"/>
<text transform="translate(691.5,355.6) scale(0.58,1)" font-family="Liberation Sans, sans-serif" font-size="9" text-anchor="middle" fill="#ffffff" stroke="#ffffff" stroke-width="0.1" font-weight="normal">35.9832</text>
<rect x="672.1" y="1.1" width="6" height="10" rx="0.8" fill="#a6a6a6" stroke="#8e8e8e" stroke-width="0.5"/>
<path d="M673.1,4.6 L675.1,1.9 L677.1,4.6 Z M673.1,7.2 L675.1,9.9 L677.1,7.2 Z" fill="#f4f4f4"/>
<line x1="673.2" y1="5.9" x2="677" y2="5.9" stroke="#e8e8e8" stroke-width="0.6"/>
<rect x="2.2" y="0" width="45.2" height="13.6" fill="#555"/>
<rect x="2.2" y="0" width="45.2" height="1" fill="#8a8a8a"/>
<rect x="3" y="1" width="10.9" height="11.8" fill="#ababab"/>
<rect x="13.9" y="1" width="10.9" height="11.8" fill="#a6bdd4"/>
<rect x="24.8" y="1" width="11.6" height="11.8" fill="#ababab"/>
<rect x="36.4" y="1" width="10.9" height="11.8" fill="#ababab"/>
<path d="M8.3,3.6 L6.8,5.4 L9.8,5.4 Z M8.3,9.4 L6.8,7.6 L9.8,7.6 Z" fill="#f4f4f4"/><line x1="6" y1="6.5" x2="10.6" y2="6.5" stroke="#f4f4f4" stroke-width="0.9"/>
<path d="M17.8,9.4 L21.2,3.6" stroke="#f4f4f4" stroke-width="1.1" fill="none"/><path d="M17.4,9.6 L20,9.6" stroke="#f4f4f4" stroke-width="0.6" fill="none"/>
<rect x="29.1" y="4" width="2.9" height="5.6" fill="#c8c8c8" stroke="#eeeeee" stroke-width="0.6"/><line x1="29.4" y1="6" x2="31.7" y2="6" stroke="#f0f0f0" stroke-width="0.5"/><line x1="29.4" y1="7.6" x2="31.7" y2="7.6" stroke="#f0f0f0" stroke-width="0.5"/><rect x="29" y="3.2" width="1.6" height="0.9" fill="#f4f4f4"/>
<ellipse cx="41.3" cy="5.6" rx="1.1" ry="1.9" fill="none" stroke="#f4f4f4" stroke-width="0.8"/><line x1="42.2" y1="7.4" x2="43.4" y2="9.4" stroke="#f4f4f4" stroke-width="1"/>
<rect x="36.1" y="13.4" width="10.8" height="14.4" fill="#282828"/>
<rect x="36.1" y="26.8" width="10.8" height="1" fill="#151515"/>
<text transform="translate(42.1,24.1) scale(0.88,1)" font-family="Liberation Sans, sans-serif" font-size="9" font-weight="bold" text-anchor="middle" fill="#f0f0f0" stroke="#f0f0f0" stroke-width="0.3">0</text>
</svg>
</body></html>
